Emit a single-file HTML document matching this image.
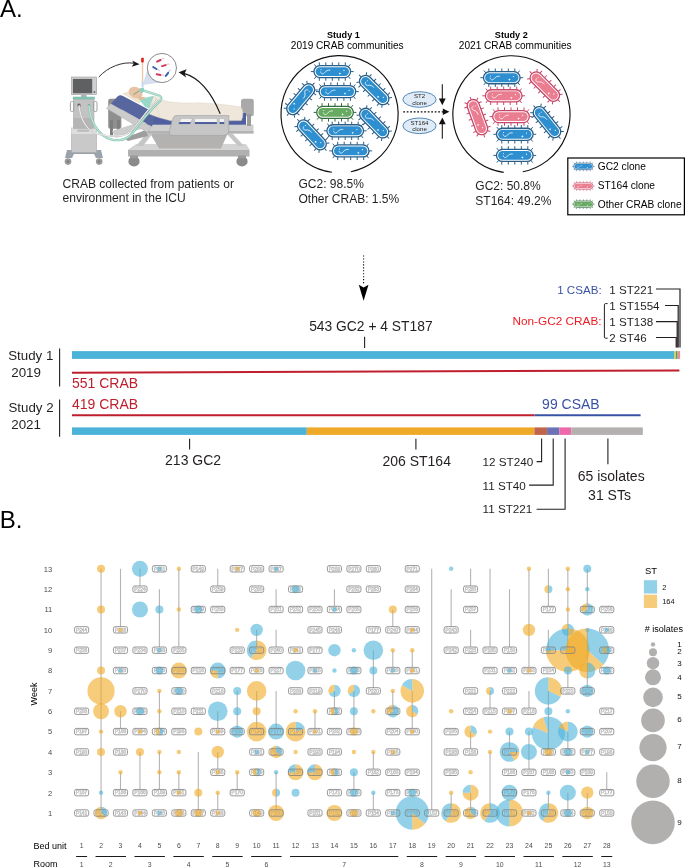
<!DOCTYPE html>
<html><head><meta charset="utf-8"><title>Figure</title>
<style>
html,body{margin:0;padding:0;background:#fff;}
body{width:685px;height:868px;overflow:hidden;}
svg{display:block;font-family:"Liberation Sans", sans-serif;will-change:transform;transform:translateZ(0);}
</style></head><body>
<svg width="685" height="868" viewBox="0 0 685 868">

<text x="0" y="16.6" font-size="24" fill="#000" text-anchor="start">A.</text>
<text x="-0.3" y="527.8" font-size="24" fill="#000" text-anchor="start">B.</text>
<g id="illus">
<path d="M67 150 H101 L103 158 H96 L94 154 H74 L72 158 H65 Z" fill="#9aa3ab"/>
<circle cx="68" cy="161.6" r="3.3" fill="#9b9b9b"/><circle cx="99.2" cy="161.6" r="3.3" fill="#9b9b9b"/>
<circle cx="68" cy="161.6" r="1.3" fill="#7d7d7d"/><circle cx="99.2" cy="161.6" r="1.3" fill="#7d7d7d"/>
<rect x="71.4" y="128" width="25.2" height="24.5" fill="#c9c9c9" stroke="#a5a5a5" stroke-width="0.5"/>
<rect x="71.4" y="128" width="25.2" height="6" fill="#dedede"/>
<rect x="77" y="129.5" width="12" height="2.2" rx="1" fill="#bcbcbc"/>
<rect x="73.4" y="99" width="20.6" height="29.5" fill="#c3c3c3" stroke="#a5a5a5" stroke-width="0.5"/>
<rect x="73.4" y="118" width="20.6" height="10.5" fill="#b5b5b5"/>
<rect x="70.4" y="101.5" width="3.4" height="10" rx="1.2" fill="none" stroke="#a0a0a0" stroke-width="1"/>
<rect x="93.6" y="101.5" width="3.4" height="10" rx="1.2" fill="none" stroke="#a0a0a0" stroke-width="1"/>
<rect x="81" y="95" width="5.5" height="2" fill="#b0b0b0"/>
<rect x="72.8" y="96.7" width="22" height="2.6" fill="#7fc4b0"/>
<rect x="71.4" y="77" width="25.2" height="17.6" fill="#cfcfcf" stroke="#9c9c9c" stroke-width="0.6"/>
<rect x="72.9" y="78.9" width="19.3" height="14.4" fill="#5f6062"/>
<circle cx="94.4" cy="92" r="1.1" fill="#777"/>
<circle cx="79" cy="105.2" r="2" fill="#8a8a8a"/><circle cx="79" cy="105.2" r="1" fill="#444"/>
<circle cx="89" cy="105.2" r="1.3" fill="#6fb7a3"/>
<rect x="108.2" y="98.8" width="13.2" height="30" rx="2" fill="#8f8f8f"/>
<rect x="110" y="120" width="3" height="16" fill="#7e7e7e"/><rect x="117" y="120" width="3" height="14" fill="#7e7e7e"/>
<path d="M128 150 L136 144.5 H246 L249.5 150 V156.5 H128 Z" fill="#b0b0b0"/>
<path d="M128 150 L136 144.5 H246 L249.5 150 Z" fill="#d4d4d4"/>
<ellipse cx="134" cy="161.4" rx="5.6" ry="5" fill="#8a8a8a"/><ellipse cx="242" cy="161.4" rx="5.6" ry="5" fill="#8a8a8a"/>
<rect x="130" y="155.5" width="8" height="3" fill="#9a9a9a"/><rect x="238" y="155.5" width="8" height="3" fill="#9a9a9a"/>
<path d="M150 133 H228 L221 148.5 H159 Z" fill="#b4b2b1"/>
<path d="M147 133 L136 146 H143 L153 133 Z" fill="#c6c6c6"/><path d="M226 133 L238 146 H244 L232 133 Z" fill="#c6c6c6"/>
<path d="M112 131 L140 122 L146 127 L116 138 Z" fill="#cdcdcd"/>
<path d="M124 138 L146 130 L148 136 L128 141 Z" fill="#9d9d9d"/>
<rect x="147" y="124.5" width="106.5" height="9" fill="#cfcfcf"/>
<rect x="147" y="131" width="106.5" height="2.5" fill="#b3b3b3"/>
<rect x="241" y="98.8" width="12.8" height="17.5" rx="2.5" fill="#a9a9a9"/>
<rect x="247" y="114" width="4" height="12" fill="#9a9a9a"/>
<path d="M150 113 H246 V124.8 H146 Z" fill="#4f5f9f"/>
<path d="M106.5 108.5 L110.5 103.5 L151 126.5 L147.5 132.5 Z" fill="#cbcbcb" stroke="#a9a9a9" stroke-width="0.4"/>
<path d="M111 103.5 L117.5 96.5 Q120 94.5 123 96 L156 113.5 L152 126.5 Z" fill="#57669f"/>
<path d="M122.9 93.6 L129.5 92 L141 100.4 L139.3 103.2 Z" fill="#efe6d3" stroke="#d8caae" stroke-width="0.4"/>
<path d="M149.8 99.5 L155 96.4 Q158 97.5 162 99.9 Q166 101.4 171.4 102.2 Q186 103.8 200 102.9 Q216 103.6 230 105.4 L241 107 Q244.6 113 241.4 120.6 L176 121 L171 120.8 L158.6 117.4 L149.2 113.9 Z" fill="#efe7dc" stroke="#dbd1c2" stroke-width="0.5"/>
<path d="M155 96.8 Q157 108 159.5 117.5" fill="none" stroke="#ddd3c4" stroke-width="0.5"/>
<ellipse cx="135.6" cy="92.6" rx="7.2" ry="5.5" fill="#e8c4a4" transform="rotate(22 135.6 92.6)"/>
<path d="M138.5 96 L146 97.8 L144.6 102 L138.6 99.4 Z" fill="#e2bb99"/>
<path d="M139.9 100.6 L146.3 97.6 L153.9 95.8 L149.2 108.2 L145.1 107 Z" fill="#9ad8c8"/>
<path d="M139.2 88.6 L143.6 87.4 L144.6 91.6 L141 93.2 Z" fill="#8fd0c0"/>
<path d="M133.4 94.6 L139.6 90.6" stroke="#4d9a88" stroke-width="0.8" fill="none"/>
<path d="M89 105.5 C90 122 99 136 111 139.3 C120 141.6 128 139 133 132.5 C139 124 148 112.5 160.6 100.3 Q162.6 97 158.6 95.3 L150 92.6 L143.6 90.6" fill="none" stroke="#86c8b4" stroke-width="2.3" stroke-linejoin="round"/>
<path d="M89 105.5 C90 122 99 136 111 139.3 C120 141.6 128 139 133 132.5 C139 124 148 112.5 160.6 100.3 Q162.6 97 158.6 95.3 L150 92.6 L143.6 90.6" fill="none" stroke="#e9f5f1" stroke-width="0.7" stroke-linejoin="round"/>
<path d="M79 105.4 C80 118 86 130 96 133.5 C108 136.5 120 137 127 134 C136 128 145 112 157.5 99.5" fill="none" stroke="#b9b9b9" stroke-width="1.7"/>
<path d="M79 105.4 C80 118 86 130 96 133.5 C108 136.5 120 137 127 134 C136 128 145 112 157.5 99.5" fill="none" stroke="#f6f6f6" stroke-width="0.9"/>
<path d="M176 115.6 H228.8 V130 Q228.8 135.4 223 135.4 H173 Q168 135.4 169.5 130.5 L172.5 119.5 Q173.6 115.6 176 115.6 Z" fill="#c6c6c6" stroke="#9d9d9d" stroke-width="0.6"/>
<path d="M181 118.6 H192.5 L190 124 H178.6 Z" fill="#f3f3f3" stroke="#9d9d9d" stroke-width="0.4"/>
<rect x="194.6" y="118.6" width="22.6" height="5.6" rx="1" fill="#f3f3f3" stroke="#9d9d9d" stroke-width="0.4"/>
<rect x="219.3" y="118.6" width="5.2" height="5.6" rx="1" fill="#f3f3f3" stroke="#9d9d9d" stroke-width="0.4"/>
<path d="M179.5 122 H191 L190 124 H178.6 Z" fill="#4f5f9f"/><rect x="194.9" y="122" width="22" height="2" fill="#4f5f9f"/><rect x="219.6" y="122" width="4.6" height="2" fill="#4f5f9f"/>
<path d="M142.6 85 L148 68 L160 82.5 Z" fill="#d5dff0"/>
<rect x="141.9" y="62" width="1.3" height="20" fill="#e9c9a3"/>
<rect x="141.1" y="57.8" width="2.7" height="4.8" rx="0.8" fill="#e0271c"/>
<rect x="141.6" y="81.4" width="1.9" height="6" fill="#c5d6ea"/>
<circle cx="161.9" cy="68" r="14.6" fill="#fff" stroke="#58595b" stroke-width="0.7"/>
<g transform="translate(158.8 60.8) rotate(-25)"><rect x="-2.9" y="-1" width="5.8" height="2" rx="1" fill="#d23a5a"/><path d="M2.9 0 q1.5 -1.2 3 0.2" fill="none" stroke="#d23a5a" stroke-width="0.35"/></g>
<g transform="translate(163.8 65.6) rotate(-15)"><rect x="-2.9" y="-1" width="5.8" height="2" rx="1" fill="#d23a5a"/><path d="M2.9 0 q1.5 -1.2 3 0.2" fill="none" stroke="#d23a5a" stroke-width="0.35"/></g>
<g transform="translate(158.6 74.6) rotate(10)"><rect x="-2.9" y="-1" width="5.8" height="2" rx="1" fill="#d23a5a"/><path d="M2.9 0 q1.5 -1.2 3 0.2" fill="none" stroke="#d23a5a" stroke-width="0.35"/></g>
<g transform="translate(154.8 68) rotate(32)"><rect x="-2.9" y="-1" width="5.8" height="2" rx="1" fill="#3a5fb0"/><path d="M2.9 0 q1.5 -1.2 3 0.2" fill="none" stroke="#3a5fb0" stroke-width="0.35"/></g>
<g transform="translate(167 74.4) rotate(-52)"><rect x="-2.9" y="-1" width="5.8" height="2" rx="1" fill="#3a5fb0"/><path d="M2.9 0 q1.5 -1.2 3 0.2" fill="none" stroke="#3a5fb0" stroke-width="0.35"/></g>
<path d="M98.8 77 C108 67 122 61.5 134 63.2" fill="none" stroke="#1a1a1a" stroke-width="0.9"/>
<path d="M139.6 64.2 L132.2 60.4 L133.8 63.6 L131.8 66.8 Z" fill="#1a1a1a"/>
<path d="M220.2 113.8 C212 94 200 78 184 73.4" fill="none" stroke="#1a1a1a" stroke-width="1.1"/>
<path d="M178.6 72.2 L186.6 69.2 L184.6 73.4 L186.2 77.6 Z" fill="#1a1a1a"/>
<text x="62.5" y="187.5" font-size="12.05" fill="#231f20" text-anchor="start">CRAB collected from patients or</text>
<text x="62.5" y="201.5" font-size="12.05" fill="#231f20" text-anchor="start">environment in the ICU</text>
<path d="M350.9 171.7 A58.6 58.6 0 1 0 331.9 172.3" fill="none" stroke="#111" stroke-width="1.15"/>
<g transform="translate(332.3 71.6) rotate(0) scale(1)"><path d="M-13.0 -9.2V-6.0M-13.0 6.0V9.2M-6.5 -9.2V-6.0M-6.5 6.0V9.2M0.0 -9.2V-6.0M0.0 6.0V9.2M6.5 -9.2V-6.0M6.5 6.0V9.2M13.0 -9.2V-6.0M13.0 6.0V9.2M16.0 -4.8L17.9 -7.2M18.3 0.0L21.4 0.0M16.0 4.8L17.9 7.2M-16.0 4.8L-17.9 7.2M-18.3 0.0L-21.4 0.0M-16.0 -4.8L-17.9 -7.2" stroke="#2a5f88" stroke-width="1" fill="none"/><rect x="-18.3" y="-6.05" width="36.6" height="12.1" rx="6.05" fill="#fff" stroke="#2a5f88" stroke-width="1.3"/><rect x="-16.7" y="-4.449999999999999" width="33.4" height="8.899999999999999" rx="4.449999999999999" fill="#2e8fd0"/><path d="M-11.7 0 C-11.2 2.6 -9 2.8 -7.6 1 C-6.2 -0.9 -4.6 -1.7 -2 -1.4" fill="none" stroke="#fff" stroke-width="0.75"/><circle cx="-11.3" cy="-1.8" r="0.5" fill="#fff"/><circle cx="11.7" cy="-1.2" r="0.6" fill="#fff"/><path d="M7.6 0.6 L8 1.6 L9 2 L8 2.4 L7.6 3.4 L7.2 2.4 L6.2 2 L7.2 1.6 Z" fill="#fff"/></g>
<g transform="translate(337.4 91.6) rotate(0) scale(1)"><path d="M-13.0 -9.2V-6.0M-13.0 6.0V9.2M-6.5 -9.2V-6.0M-6.5 6.0V9.2M0.0 -9.2V-6.0M0.0 6.0V9.2M6.5 -9.2V-6.0M6.5 6.0V9.2M13.0 -9.2V-6.0M13.0 6.0V9.2M16.0 -4.8L17.9 -7.2M18.3 0.0L21.4 0.0M16.0 4.8L17.9 7.2M-16.0 4.8L-17.9 7.2M-18.3 0.0L-21.4 0.0M-16.0 -4.8L-17.9 -7.2" stroke="#2a5f88" stroke-width="1" fill="none"/><rect x="-18.3" y="-6.05" width="36.6" height="12.1" rx="6.05" fill="#fff" stroke="#2a5f88" stroke-width="1.3"/><rect x="-16.7" y="-4.449999999999999" width="33.4" height="8.899999999999999" rx="4.449999999999999" fill="#2e8fd0"/><path d="M-11.7 0 C-11.2 2.6 -9 2.8 -7.6 1 C-6.2 -0.9 -4.6 -1.7 -2 -1.4" fill="none" stroke="#fff" stroke-width="0.75"/><circle cx="-11.3" cy="-1.8" r="0.5" fill="#fff"/><circle cx="11.7" cy="-1.2" r="0.6" fill="#fff"/><path d="M7.6 0.6 L8 1.6 L9 2 L8 2.4 L7.6 3.4 L7.2 2.4 L6.2 2 L7.2 1.6 Z" fill="#fff"/></g>
<g transform="translate(335 112.4) rotate(0) scale(1)"><path d="M-13.0 -9.2V-6.0M-13.0 6.0V9.2M-6.5 -9.2V-6.0M-6.5 6.0V9.2M0.0 -9.2V-6.0M0.0 6.0V9.2M6.5 -9.2V-6.0M6.5 6.0V9.2M13.0 -9.2V-6.0M13.0 6.0V9.2M16.0 -4.8L17.9 -7.2M18.3 0.0L21.4 0.0M16.0 4.8L17.9 7.2M-16.0 4.8L-17.9 7.2M-18.3 0.0L-21.4 0.0M-16.0 -4.8L-17.9 -7.2" stroke="#356b3f" stroke-width="1" fill="none"/><rect x="-18.3" y="-6.05" width="36.6" height="12.1" rx="6.05" fill="#fff" stroke="#356b3f" stroke-width="1.3"/><rect x="-16.7" y="-4.449999999999999" width="33.4" height="8.899999999999999" rx="4.449999999999999" fill="#67aa62"/><path d="M-11.7 0 C-11.2 2.6 -9 2.8 -7.6 1 C-6.2 -0.9 -4.6 -1.7 -2 -1.4" fill="none" stroke="#fff" stroke-width="0.75"/><circle cx="-11.3" cy="-1.8" r="0.5" fill="#fff"/><circle cx="11.7" cy="-1.2" r="0.6" fill="#fff"/><path d="M7.6 0.6 L8 1.6 L9 2 L8 2.4 L7.6 3.4 L7.2 2.4 L6.2 2 L7.2 1.6 Z" fill="#fff"/></g>
<g transform="translate(345.2 130.8) rotate(0) scale(1)"><path d="M-13.0 -9.2V-6.0M-13.0 6.0V9.2M-6.5 -9.2V-6.0M-6.5 6.0V9.2M0.0 -9.2V-6.0M0.0 6.0V9.2M6.5 -9.2V-6.0M6.5 6.0V9.2M13.0 -9.2V-6.0M13.0 6.0V9.2M16.0 -4.8L17.9 -7.2M18.3 0.0L21.4 0.0M16.0 4.8L17.9 7.2M-16.0 4.8L-17.9 7.2M-18.3 0.0L-21.4 0.0M-16.0 -4.8L-17.9 -7.2" stroke="#2a5f88" stroke-width="1" fill="none"/><rect x="-18.3" y="-6.05" width="36.6" height="12.1" rx="6.05" fill="#fff" stroke="#2a5f88" stroke-width="1.3"/><rect x="-16.7" y="-4.449999999999999" width="33.4" height="8.899999999999999" rx="4.449999999999999" fill="#2e8fd0"/><path d="M-11.7 0 C-11.2 2.6 -9 2.8 -7.6 1 C-6.2 -0.9 -4.6 -1.7 -2 -1.4" fill="none" stroke="#fff" stroke-width="0.75"/><circle cx="-11.3" cy="-1.8" r="0.5" fill="#fff"/><circle cx="11.7" cy="-1.2" r="0.6" fill="#fff"/><path d="M7.6 0.6 L8 1.6 L9 2 L8 2.4 L7.6 3.4 L7.2 2.4 L6.2 2 L7.2 1.6 Z" fill="#fff"/></g>
<g transform="translate(350.7 150.9) rotate(0) scale(1)"><path d="M-13.0 -9.2V-6.0M-13.0 6.0V9.2M-6.5 -9.2V-6.0M-6.5 6.0V9.2M0.0 -9.2V-6.0M0.0 6.0V9.2M6.5 -9.2V-6.0M6.5 6.0V9.2M13.0 -9.2V-6.0M13.0 6.0V9.2M16.0 -4.8L17.9 -7.2M18.3 0.0L21.4 0.0M16.0 4.8L17.9 7.2M-16.0 4.8L-17.9 7.2M-18.3 0.0L-21.4 0.0M-16.0 -4.8L-17.9 -7.2" stroke="#2a5f88" stroke-width="1" fill="none"/><rect x="-18.3" y="-6.05" width="36.6" height="12.1" rx="6.05" fill="#fff" stroke="#2a5f88" stroke-width="1.3"/><rect x="-16.7" y="-4.449999999999999" width="33.4" height="8.899999999999999" rx="4.449999999999999" fill="#2e8fd0"/><path d="M-11.7 0 C-11.2 2.6 -9 2.8 -7.6 1 C-6.2 -0.9 -4.6 -1.7 -2 -1.4" fill="none" stroke="#fff" stroke-width="0.75"/><circle cx="-11.3" cy="-1.8" r="0.5" fill="#fff"/><circle cx="11.7" cy="-1.2" r="0.6" fill="#fff"/><path d="M7.6 0.6 L8 1.6 L9 2 L8 2.4 L7.6 3.4 L7.2 2.4 L6.2 2 L7.2 1.6 Z" fill="#fff"/></g>
<g transform="translate(300.7 99.2) rotate(130) scale(1)"><path d="M-13.0 -9.2V-6.0M-13.0 6.0V9.2M-6.5 -9.2V-6.0M-6.5 6.0V9.2M0.0 -9.2V-6.0M0.0 6.0V9.2M6.5 -9.2V-6.0M6.5 6.0V9.2M13.0 -9.2V-6.0M13.0 6.0V9.2M16.0 -4.8L17.9 -7.2M18.3 0.0L21.4 0.0M16.0 4.8L17.9 7.2M-16.0 4.8L-17.9 7.2M-18.3 0.0L-21.4 0.0M-16.0 -4.8L-17.9 -7.2" stroke="#2a5f88" stroke-width="1" fill="none"/><rect x="-18.3" y="-6.05" width="36.6" height="12.1" rx="6.05" fill="#fff" stroke="#2a5f88" stroke-width="1.3"/><rect x="-16.7" y="-4.449999999999999" width="33.4" height="8.899999999999999" rx="4.449999999999999" fill="#2e8fd0"/><path d="M-11.7 0 C-11.2 2.6 -9 2.8 -7.6 1 C-6.2 -0.9 -4.6 -1.7 -2 -1.4" fill="none" stroke="#fff" stroke-width="0.75"/><circle cx="-11.3" cy="-1.8" r="0.5" fill="#fff"/><circle cx="11.7" cy="-1.2" r="0.6" fill="#fff"/><path d="M7.6 0.6 L8 1.6 L9 2 L8 2.4 L7.6 3.4 L7.2 2.4 L6.2 2 L7.2 1.6 Z" fill="#fff"/></g>
<g transform="translate(311.9 134.9) rotate(47) scale(1)"><path d="M-13.0 -9.2V-6.0M-13.0 6.0V9.2M-6.5 -9.2V-6.0M-6.5 6.0V9.2M0.0 -9.2V-6.0M0.0 6.0V9.2M6.5 -9.2V-6.0M6.5 6.0V9.2M13.0 -9.2V-6.0M13.0 6.0V9.2M16.0 -4.8L17.9 -7.2M18.3 0.0L21.4 0.0M16.0 4.8L17.9 7.2M-16.0 4.8L-17.9 7.2M-18.3 0.0L-21.4 0.0M-16.0 -4.8L-17.9 -7.2" stroke="#2a5f88" stroke-width="1" fill="none"/><rect x="-18.3" y="-6.05" width="36.6" height="12.1" rx="6.05" fill="#fff" stroke="#2a5f88" stroke-width="1.3"/><rect x="-16.7" y="-4.449999999999999" width="33.4" height="8.899999999999999" rx="4.449999999999999" fill="#2e8fd0"/><path d="M-11.7 0 C-11.2 2.6 -9 2.8 -7.6 1 C-6.2 -0.9 -4.6 -1.7 -2 -1.4" fill="none" stroke="#fff" stroke-width="0.75"/><circle cx="-11.3" cy="-1.8" r="0.5" fill="#fff"/><circle cx="11.7" cy="-1.2" r="0.6" fill="#fff"/><path d="M7.6 0.6 L8 1.6 L9 2 L8 2.4 L7.6 3.4 L7.2 2.4 L6.2 2 L7.2 1.6 Z" fill="#fff"/></g>
<g transform="translate(374.2 90) rotate(45) scale(1)"><path d="M-13.0 -9.2V-6.0M-13.0 6.0V9.2M-6.5 -9.2V-6.0M-6.5 6.0V9.2M0.0 -9.2V-6.0M0.0 6.0V9.2M6.5 -9.2V-6.0M6.5 6.0V9.2M13.0 -9.2V-6.0M13.0 6.0V9.2M16.0 -4.8L17.9 -7.2M18.3 0.0L21.4 0.0M16.0 4.8L17.9 7.2M-16.0 4.8L-17.9 7.2M-18.3 0.0L-21.4 0.0M-16.0 -4.8L-17.9 -7.2" stroke="#2a5f88" stroke-width="1" fill="none"/><rect x="-18.3" y="-6.05" width="36.6" height="12.1" rx="6.05" fill="#fff" stroke="#2a5f88" stroke-width="1.3"/><rect x="-16.7" y="-4.449999999999999" width="33.4" height="8.899999999999999" rx="4.449999999999999" fill="#2e8fd0"/><path d="M-11.7 0 C-11.2 2.6 -9 2.8 -7.6 1 C-6.2 -0.9 -4.6 -1.7 -2 -1.4" fill="none" stroke="#fff" stroke-width="0.75"/><circle cx="-11.3" cy="-1.8" r="0.5" fill="#fff"/><circle cx="11.7" cy="-1.2" r="0.6" fill="#fff"/><path d="M7.6 0.6 L8 1.6 L9 2 L8 2.4 L7.6 3.4 L7.2 2.4 L6.2 2 L7.2 1.6 Z" fill="#fff"/></g>
<g transform="translate(374.2 123.1) rotate(46) scale(1)"><path d="M-13.0 -9.2V-6.0M-13.0 6.0V9.2M-6.5 -9.2V-6.0M-6.5 6.0V9.2M0.0 -9.2V-6.0M0.0 6.0V9.2M6.5 -9.2V-6.0M6.5 6.0V9.2M13.0 -9.2V-6.0M13.0 6.0V9.2M16.0 -4.8L17.9 -7.2M18.3 0.0L21.4 0.0M16.0 4.8L17.9 7.2M-16.0 4.8L-17.9 7.2M-18.3 0.0L-21.4 0.0M-16.0 -4.8L-17.9 -7.2" stroke="#2a5f88" stroke-width="1" fill="none"/><rect x="-18.3" y="-6.05" width="36.6" height="12.1" rx="6.05" fill="#fff" stroke="#2a5f88" stroke-width="1.3"/><rect x="-16.7" y="-4.449999999999999" width="33.4" height="8.899999999999999" rx="4.449999999999999" fill="#2e8fd0"/><path d="M-11.7 0 C-11.2 2.6 -9 2.8 -7.6 1 C-6.2 -0.9 -4.6 -1.7 -2 -1.4" fill="none" stroke="#fff" stroke-width="0.75"/><circle cx="-11.3" cy="-1.8" r="0.5" fill="#fff"/><circle cx="11.7" cy="-1.2" r="0.6" fill="#fff"/><path d="M7.6 0.6 L8 1.6 L9 2 L8 2.4 L7.6 3.4 L7.2 2.4 L6.2 2 L7.2 1.6 Z" fill="#fff"/></g>
<text x="343.4" y="37.6" font-size="9.7" fill="#000" text-anchor="middle" font-weight="bold" textLength="32.8" lengthAdjust="spacingAndGlyphs">Study 1</text>
<text x="347.2" y="49.4" font-size="10.1" fill="#000" text-anchor="middle">2019 CRAB communities</text>
<text x="298.5" y="188.2" font-size="12" fill="#231f20" text-anchor="start">GC2: 98.5%</text>
<text x="298.5" y="202.9" font-size="12" fill="#231f20" text-anchor="start">Other CRAB: 1.5%</text>
<path d="M522.8 171.8 A58.6 58.6 0 1 0 503.7 172.4" fill="none" stroke="#111" stroke-width="1.15"/>
<g transform="translate(501.8 77.7) rotate(0) scale(1)"><path d="M-13.0 -9.2V-6.0M-13.0 6.0V9.2M-6.5 -9.2V-6.0M-6.5 6.0V9.2M0.0 -9.2V-6.0M0.0 6.0V9.2M6.5 -9.2V-6.0M6.5 6.0V9.2M13.0 -9.2V-6.0M13.0 6.0V9.2M16.0 -4.8L17.9 -7.2M18.3 0.0L21.4 0.0M16.0 4.8L17.9 7.2M-16.0 4.8L-17.9 7.2M-18.3 0.0L-21.4 0.0M-16.0 -4.8L-17.9 -7.2" stroke="#2a5f88" stroke-width="1" fill="none"/><rect x="-18.3" y="-6.05" width="36.6" height="12.1" rx="6.05" fill="#fff" stroke="#2a5f88" stroke-width="1.3"/><rect x="-16.7" y="-4.449999999999999" width="33.4" height="8.899999999999999" rx="4.449999999999999" fill="#2e8fd0"/><path d="M-11.7 0 C-11.2 2.6 -9 2.8 -7.6 1 C-6.2 -0.9 -4.6 -1.7 -2 -1.4" fill="none" stroke="#fff" stroke-width="0.75"/><circle cx="-11.3" cy="-1.8" r="0.5" fill="#fff"/><circle cx="11.7" cy="-1.2" r="0.6" fill="#fff"/><path d="M7.6 0.6 L8 1.6 L9 2 L8 2.4 L7.6 3.4 L7.2 2.4 L6.2 2 L7.2 1.6 Z" fill="#fff"/></g>
<g transform="translate(503.7 95.8) rotate(0) scale(1)"><path d="M-13.0 -9.2V-6.0M-13.0 6.0V9.2M-6.5 -9.2V-6.0M-6.5 6.0V9.2M0.0 -9.2V-6.0M0.0 6.0V9.2M6.5 -9.2V-6.0M6.5 6.0V9.2M13.0 -9.2V-6.0M13.0 6.0V9.2M16.0 -4.8L17.9 -7.2M18.3 0.0L21.4 0.0M16.0 4.8L17.9 7.2M-16.0 4.8L-17.9 7.2M-18.3 0.0L-21.4 0.0M-16.0 -4.8L-17.9 -7.2" stroke="#c8486a" stroke-width="1" fill="none"/><rect x="-18.3" y="-6.05" width="36.6" height="12.1" rx="6.05" fill="#fff" stroke="#c8486a" stroke-width="1.3"/><rect x="-16.7" y="-4.449999999999999" width="33.4" height="8.899999999999999" rx="4.449999999999999" fill="#ea7d90"/><path d="M-11.7 0 C-11.2 2.6 -9 2.8 -7.6 1 C-6.2 -0.9 -4.6 -1.7 -2 -1.4" fill="none" stroke="#fff" stroke-width="0.75"/><circle cx="-11.3" cy="-1.8" r="0.5" fill="#fff"/><circle cx="11.7" cy="-1.2" r="0.6" fill="#fff"/><path d="M7.6 0.6 L8 1.6 L9 2 L8 2.4 L7.6 3.4 L7.2 2.4 L6.2 2 L7.2 1.6 Z" fill="#fff"/></g>
<g transform="translate(511 116.6) rotate(0) scale(1)"><path d="M-13.0 -9.2V-6.0M-13.0 6.0V9.2M-6.5 -9.2V-6.0M-6.5 6.0V9.2M0.0 -9.2V-6.0M0.0 6.0V9.2M6.5 -9.2V-6.0M6.5 6.0V9.2M13.0 -9.2V-6.0M13.0 6.0V9.2M16.0 -4.8L17.9 -7.2M18.3 0.0L21.4 0.0M16.0 4.8L17.9 7.2M-16.0 4.8L-17.9 7.2M-18.3 0.0L-21.4 0.0M-16.0 -4.8L-17.9 -7.2" stroke="#c8486a" stroke-width="1" fill="none"/><rect x="-18.3" y="-6.05" width="36.6" height="12.1" rx="6.05" fill="#fff" stroke="#c8486a" stroke-width="1.3"/><rect x="-16.7" y="-4.449999999999999" width="33.4" height="8.899999999999999" rx="4.449999999999999" fill="#ea7d90"/><path d="M-11.7 0 C-11.2 2.6 -9 2.8 -7.6 1 C-6.2 -0.9 -4.6 -1.7 -2 -1.4" fill="none" stroke="#fff" stroke-width="0.75"/><circle cx="-11.3" cy="-1.8" r="0.5" fill="#fff"/><circle cx="11.7" cy="-1.2" r="0.6" fill="#fff"/><path d="M7.6 0.6 L8 1.6 L9 2 L8 2.4 L7.6 3.4 L7.2 2.4 L6.2 2 L7.2 1.6 Z" fill="#fff"/></g>
<g transform="translate(514.8 134.3) rotate(0) scale(1)"><path d="M-13.0 -9.2V-6.0M-13.0 6.0V9.2M-6.5 -9.2V-6.0M-6.5 6.0V9.2M0.0 -9.2V-6.0M0.0 6.0V9.2M6.5 -9.2V-6.0M6.5 6.0V9.2M13.0 -9.2V-6.0M13.0 6.0V9.2M16.0 -4.8L17.9 -7.2M18.3 0.0L21.4 0.0M16.0 4.8L17.9 7.2M-16.0 4.8L-17.9 7.2M-18.3 0.0L-21.4 0.0M-16.0 -4.8L-17.9 -7.2" stroke="#2a5f88" stroke-width="1" fill="none"/><rect x="-18.3" y="-6.05" width="36.6" height="12.1" rx="6.05" fill="#fff" stroke="#2a5f88" stroke-width="1.3"/><rect x="-16.7" y="-4.449999999999999" width="33.4" height="8.899999999999999" rx="4.449999999999999" fill="#2e8fd0"/><path d="M-11.7 0 C-11.2 2.6 -9 2.8 -7.6 1 C-6.2 -0.9 -4.6 -1.7 -2 -1.4" fill="none" stroke="#fff" stroke-width="0.75"/><circle cx="-11.3" cy="-1.8" r="0.5" fill="#fff"/><circle cx="11.7" cy="-1.2" r="0.6" fill="#fff"/><path d="M7.6 0.6 L8 1.6 L9 2 L8 2.4 L7.6 3.4 L7.2 2.4 L6.2 2 L7.2 1.6 Z" fill="#fff"/></g>
<g transform="translate(514.8 155.4) rotate(0) scale(1)"><path d="M-13.0 -9.2V-6.0M-13.0 6.0V9.2M-6.5 -9.2V-6.0M-6.5 6.0V9.2M0.0 -9.2V-6.0M0.0 6.0V9.2M6.5 -9.2V-6.0M6.5 6.0V9.2M13.0 -9.2V-6.0M13.0 6.0V9.2M16.0 -4.8L17.9 -7.2M18.3 0.0L21.4 0.0M16.0 4.8L17.9 7.2M-16.0 4.8L-17.9 7.2M-18.3 0.0L-21.4 0.0M-16.0 -4.8L-17.9 -7.2" stroke="#2a5f88" stroke-width="1" fill="none"/><rect x="-18.3" y="-6.05" width="36.6" height="12.1" rx="6.05" fill="#fff" stroke="#2a5f88" stroke-width="1.3"/><rect x="-16.7" y="-4.449999999999999" width="33.4" height="8.899999999999999" rx="4.449999999999999" fill="#2e8fd0"/><path d="M-11.7 0 C-11.2 2.6 -9 2.8 -7.6 1 C-6.2 -0.9 -4.6 -1.7 -2 -1.4" fill="none" stroke="#fff" stroke-width="0.75"/><circle cx="-11.3" cy="-1.8" r="0.5" fill="#fff"/><circle cx="11.7" cy="-1.2" r="0.6" fill="#fff"/><path d="M7.6 0.6 L8 1.6 L9 2 L8 2.4 L7.6 3.4 L7.2 2.4 L6.2 2 L7.2 1.6 Z" fill="#fff"/></g>
<g transform="translate(544.8 86.6) rotate(45) scale(1)"><path d="M-13.0 -9.2V-6.0M-13.0 6.0V9.2M-6.5 -9.2V-6.0M-6.5 6.0V9.2M0.0 -9.2V-6.0M0.0 6.0V9.2M6.5 -9.2V-6.0M6.5 6.0V9.2M13.0 -9.2V-6.0M13.0 6.0V9.2M16.0 -4.8L17.9 -7.2M18.3 0.0L21.4 0.0M16.0 4.8L17.9 7.2M-16.0 4.8L-17.9 7.2M-18.3 0.0L-21.4 0.0M-16.0 -4.8L-17.9 -7.2" stroke="#c8486a" stroke-width="1" fill="none"/><rect x="-18.3" y="-6.05" width="36.6" height="12.1" rx="6.05" fill="#fff" stroke="#c8486a" stroke-width="1.3"/><rect x="-16.7" y="-4.449999999999999" width="33.4" height="8.899999999999999" rx="4.449999999999999" fill="#ea7d90"/><path d="M-11.7 0 C-11.2 2.6 -9 2.8 -7.6 1 C-6.2 -0.9 -4.6 -1.7 -2 -1.4" fill="none" stroke="#fff" stroke-width="0.75"/><circle cx="-11.3" cy="-1.8" r="0.5" fill="#fff"/><circle cx="11.7" cy="-1.2" r="0.6" fill="#fff"/><path d="M7.6 0.6 L8 1.6 L9 2 L8 2.4 L7.6 3.4 L7.2 2.4 L6.2 2 L7.2 1.6 Z" fill="#fff"/></g>
<g transform="translate(547 122.1) rotate(51) scale(1)"><path d="M-13.0 -9.2V-6.0M-13.0 6.0V9.2M-6.5 -9.2V-6.0M-6.5 6.0V9.2M0.0 -9.2V-6.0M0.0 6.0V9.2M6.5 -9.2V-6.0M6.5 6.0V9.2M13.0 -9.2V-6.0M13.0 6.0V9.2M16.0 -4.8L17.9 -7.2M18.3 0.0L21.4 0.0M16.0 4.8L17.9 7.2M-16.0 4.8L-17.9 7.2M-18.3 0.0L-21.4 0.0M-16.0 -4.8L-17.9 -7.2" stroke="#2a5f88" stroke-width="1" fill="none"/><rect x="-18.3" y="-6.05" width="36.6" height="12.1" rx="6.05" fill="#fff" stroke="#2a5f88" stroke-width="1.3"/><rect x="-16.7" y="-4.449999999999999" width="33.4" height="8.899999999999999" rx="4.449999999999999" fill="#2e8fd0"/><path d="M-11.7 0 C-11.2 2.6 -9 2.8 -7.6 1 C-6.2 -0.9 -4.6 -1.7 -2 -1.4" fill="none" stroke="#fff" stroke-width="0.75"/><circle cx="-11.3" cy="-1.8" r="0.5" fill="#fff"/><circle cx="11.7" cy="-1.2" r="0.6" fill="#fff"/><path d="M7.6 0.6 L8 1.6 L9 2 L8 2.4 L7.6 3.4 L7.2 2.4 L6.2 2 L7.2 1.6 Z" fill="#fff"/></g>
<g transform="translate(477.4 117.1) rotate(70) scale(1)"><path d="M-13.0 -9.2V-6.0M-13.0 6.0V9.2M-6.5 -9.2V-6.0M-6.5 6.0V9.2M0.0 -9.2V-6.0M0.0 6.0V9.2M6.5 -9.2V-6.0M6.5 6.0V9.2M13.0 -9.2V-6.0M13.0 6.0V9.2M16.0 -4.8L17.9 -7.2M18.3 0.0L21.4 0.0M16.0 4.8L17.9 7.2M-16.0 4.8L-17.9 7.2M-18.3 0.0L-21.4 0.0M-16.0 -4.8L-17.9 -7.2" stroke="#c8486a" stroke-width="1" fill="none"/><rect x="-18.3" y="-6.05" width="36.6" height="12.1" rx="6.05" fill="#fff" stroke="#c8486a" stroke-width="1.3"/><rect x="-16.7" y="-4.449999999999999" width="33.4" height="8.899999999999999" rx="4.449999999999999" fill="#ea7d90"/><path d="M-11.7 0 C-11.2 2.6 -9 2.8 -7.6 1 C-6.2 -0.9 -4.6 -1.7 -2 -1.4" fill="none" stroke="#fff" stroke-width="0.75"/><circle cx="-11.3" cy="-1.8" r="0.5" fill="#fff"/><circle cx="11.7" cy="-1.2" r="0.6" fill="#fff"/><path d="M7.6 0.6 L8 1.6 L9 2 L8 2.4 L7.6 3.4 L7.2 2.4 L6.2 2 L7.2 1.6 Z" fill="#fff"/></g>
<text x="511.3" y="38.4" font-size="9.7" fill="#000" text-anchor="middle" font-weight="bold" textLength="33" lengthAdjust="spacingAndGlyphs">Study 2</text>
<text x="515.2" y="49.4" font-size="10.1" fill="#000" text-anchor="middle">2021 CRAB communities</text>
<text x="475.3" y="189.7" font-size="12" fill="#231f20" text-anchor="start">GC2: 50.8%</text>
<text x="475.3" y="204.7" font-size="12" fill="#231f20" text-anchor="start">ST164: 49.2%</text>
<ellipse cx="419.5" cy="99.5" rx="16.6" ry="7.8" fill="#dfecf8" stroke="#2e6da4" stroke-width="0.8"/>
<text x="419.5" y="98.2" font-size="6.1" fill="#222" text-anchor="middle">ST2</text>
<text x="419.5" y="104.7" font-size="6.1" fill="#222" text-anchor="middle">clone</text>
<ellipse cx="419.5" cy="125.8" rx="16.6" ry="7.8" fill="#dfecf8" stroke="#2e6da4" stroke-width="0.8"/>
<text x="419.5" y="124.5" font-size="6.1" fill="#222" text-anchor="middle">ST164</text>
<text x="419.5" y="131.0" font-size="6.1" fill="#222" text-anchor="middle">clone</text>
<line x1="403.2" y1="111.8" x2="443" y2="111.8" stroke="#111" stroke-width="1.25" stroke-dasharray="1.8 1.7"/>
<path d="M449.4 111.8 L442.8 108.5 V115.1 Z" fill="#111"/>
<line x1="442.3" y1="84.2" x2="442.3" y2="100" stroke="#111" stroke-width="1.05"/><path d="M442.3 105.3 L438.9 98.5 H445.7 Z" fill="#111"/>
<line x1="442.3" y1="138.7" x2="442.3" y2="123" stroke="#111" stroke-width="1.05"/><path d="M442.3 117.5 L438.9 124.3 H445.7 Z" fill="#111"/>
<rect x="567.8" y="158" width="116.6" height="56.8" fill="#fff" stroke="#000" stroke-width="1.2"/>
<g transform="translate(583.3 166.4) rotate(0) scale(0.53)"><path d="M-13.0 -9.2V-6.0M-13.0 6.0V9.2M-6.5 -9.2V-6.0M-6.5 6.0V9.2M0.0 -9.2V-6.0M0.0 6.0V9.2M6.5 -9.2V-6.0M6.5 6.0V9.2M13.0 -9.2V-6.0M13.0 6.0V9.2M16.0 -4.8L17.9 -7.2M18.3 0.0L21.4 0.0M16.0 4.8L17.9 7.2M-16.0 4.8L-17.9 7.2M-18.3 0.0L-21.4 0.0M-16.0 -4.8L-17.9 -7.2" stroke="#2a5f88" stroke-width="1" fill="none"/><rect x="-18.3" y="-6.05" width="36.6" height="12.1" rx="6.05" fill="#fff" stroke="#2a5f88" stroke-width="1.3"/><rect x="-16.7" y="-4.449999999999999" width="33.4" height="8.899999999999999" rx="4.449999999999999" fill="#2e8fd0"/><path d="M-11.7 0 C-11.2 2.6 -9 2.8 -7.6 1 C-6.2 -0.9 -4.6 -1.7 -2 -1.4" fill="none" stroke="#fff" stroke-width="0.75"/><circle cx="-11.3" cy="-1.8" r="0.5" fill="#fff"/><circle cx="11.7" cy="-1.2" r="0.6" fill="#fff"/><path d="M7.6 0.6 L8 1.6 L9 2 L8 2.4 L7.6 3.4 L7.2 2.4 L6.2 2 L7.2 1.6 Z" fill="#fff"/></g>
<g transform="translate(583.3 186) rotate(0) scale(0.53)"><path d="M-13.0 -9.2V-6.0M-13.0 6.0V9.2M-6.5 -9.2V-6.0M-6.5 6.0V9.2M0.0 -9.2V-6.0M0.0 6.0V9.2M6.5 -9.2V-6.0M6.5 6.0V9.2M13.0 -9.2V-6.0M13.0 6.0V9.2M16.0 -4.8L17.9 -7.2M18.3 0.0L21.4 0.0M16.0 4.8L17.9 7.2M-16.0 4.8L-17.9 7.2M-18.3 0.0L-21.4 0.0M-16.0 -4.8L-17.9 -7.2" stroke="#c8486a" stroke-width="1" fill="none"/><rect x="-18.3" y="-6.05" width="36.6" height="12.1" rx="6.05" fill="#fff" stroke="#c8486a" stroke-width="1.3"/><rect x="-16.7" y="-4.449999999999999" width="33.4" height="8.899999999999999" rx="4.449999999999999" fill="#ea7d90"/><path d="M-11.7 0 C-11.2 2.6 -9 2.8 -7.6 1 C-6.2 -0.9 -4.6 -1.7 -2 -1.4" fill="none" stroke="#fff" stroke-width="0.75"/><circle cx="-11.3" cy="-1.8" r="0.5" fill="#fff"/><circle cx="11.7" cy="-1.2" r="0.6" fill="#fff"/><path d="M7.6 0.6 L8 1.6 L9 2 L8 2.4 L7.6 3.4 L7.2 2.4 L6.2 2 L7.2 1.6 Z" fill="#fff"/></g>
<g transform="translate(583.3 204.2) rotate(0) scale(0.53)"><path d="M-13.0 -9.2V-6.0M-13.0 6.0V9.2M-6.5 -9.2V-6.0M-6.5 6.0V9.2M0.0 -9.2V-6.0M0.0 6.0V9.2M6.5 -9.2V-6.0M6.5 6.0V9.2M13.0 -9.2V-6.0M13.0 6.0V9.2M16.0 -4.8L17.9 -7.2M18.3 0.0L21.4 0.0M16.0 4.8L17.9 7.2M-16.0 4.8L-17.9 7.2M-18.3 0.0L-21.4 0.0M-16.0 -4.8L-17.9 -7.2" stroke="#356b3f" stroke-width="1" fill="none"/><rect x="-18.3" y="-6.05" width="36.6" height="12.1" rx="6.05" fill="#fff" stroke="#356b3f" stroke-width="1.3"/><rect x="-16.7" y="-4.449999999999999" width="33.4" height="8.899999999999999" rx="4.449999999999999" fill="#67aa62"/><path d="M-11.7 0 C-11.2 2.6 -9 2.8 -7.6 1 C-6.2 -0.9 -4.6 -1.7 -2 -1.4" fill="none" stroke="#fff" stroke-width="0.75"/><circle cx="-11.3" cy="-1.8" r="0.5" fill="#fff"/><circle cx="11.7" cy="-1.2" r="0.6" fill="#fff"/><path d="M7.6 0.6 L8 1.6 L9 2 L8 2.4 L7.6 3.4 L7.2 2.4 L6.2 2 L7.2 1.6 Z" fill="#fff"/></g>
<text x="597.8" y="169.5" font-size="10.2" fill="#000" text-anchor="start">GC2 clone</text>
<text x="597.8" y="188.9" font-size="10.2" fill="#000" text-anchor="start">ST164 clone</text>
<text x="597.8" y="207.5" font-size="10.2" fill="#000" text-anchor="start">Other CRAB clone</text>
</g>
<g id="bars">
<line x1="363.6" y1="255.5" x2="363.6" y2="285" stroke="#000" stroke-width="1.1" stroke-dasharray="1.1 1.85"/>
<path d="M358.8 284.7 L363.6 287.6 L368.5 284.7 L363.6 300.8 Z" fill="#000"/>
<text x="370.9" y="331.3" font-size="13.85" fill="#231f20" text-anchor="middle">543 GC2 + 4 ST187</text>
<line x1="364.6" y1="336.8" x2="364.6" y2="347.9" stroke="#231f20" stroke-width="1.1"/>
<text x="30.8" y="359.8" font-size="13.3" fill="#231f20" text-anchor="middle">Study 1</text>
<text x="26.1" y="376.7" font-size="13.4" fill="#231f20" text-anchor="middle">2019</text>
<line x1="59.6" y1="348.6" x2="59.6" y2="386.6" stroke="#231f20" stroke-width="1.1"/>
<rect x="72" y="351.1" width="602.6" height="7.8" fill="#4bb2d8"/>
<rect x="674.6" y="351.1" width="1.3" height="7.8" fill="#e8d52b"/>
<rect x="675.9" y="351.1" width="1.7" height="7.8" fill="#5b9b4a"/>
<rect x="677.6" y="351.1" width="2.5" height="7.8" fill="#e98aa0"/>
<line x1="72" y1="372.7" x2="679.4" y2="370.5" stroke="#be1e2d" stroke-width="2"/>
<text x="72" y="387.6" font-size="14" fill="#be1e2d" text-anchor="start">551 CRAB</text>
<text x="31" y="411.9" font-size="13.3" fill="#231f20" text-anchor="middle">Study 2</text>
<text x="26.1" y="429.3" font-size="13.4" fill="#231f20" text-anchor="middle">2021</text>
<line x1="59.6" y1="399.5" x2="59.6" y2="436.7" stroke="#231f20" stroke-width="1.1"/>
<text x="72" y="409.4" font-size="14" fill="#be1e2d" text-anchor="start">419 CRAB</text>
<line x1="72" y1="415.3" x2="534.4" y2="415.3" stroke="#be1e2d" stroke-width="2"/>
<line x1="534.4" y1="415.3" x2="640.6" y2="415.3" stroke="#3953a4" stroke-width="2"/>
<text x="570.9" y="409" font-size="14" fill="#3953a4" text-anchor="middle">99 CSAB</text>
<rect x="72" y="427.4" width="234.8" height="7.5" fill="#4bb2d8"/>
<rect x="306.8" y="427.4" width="227.6" height="7.5" fill="#efa928"/>
<rect x="534.4" y="427.4" width="12.7" height="7.5" fill="#c0644b"/>
<rect x="547.1" y="427.4" width="12.2" height="7.5" fill="#6b72b6"/>
<rect x="559.3" y="427.4" width="11.9" height="7.5" fill="#ec6aa9"/>
<rect x="571.2" y="427.4" width="71.6" height="7.5" fill="#b3b0af"/>
<line x1="189.6" y1="438.7" x2="189.6" y2="449.6" stroke="#231f20" stroke-width="1.1"/>
<text x="193.1" y="464.5" font-size="14" fill="#231f20" text-anchor="middle">213 GC2</text>
<line x1="415.9" y1="438.7" x2="415.9" y2="449.6" stroke="#231f20" stroke-width="1.1"/>
<text x="416.7" y="465.5" font-size="14" fill="#231f20" text-anchor="middle">206 ST164</text>
<path d="M541.6 438.5 V461.6 H536.6" fill="none" stroke="#231f20" stroke-width="1.1"/>
<path d="M553.2 438.5 V485.1 H529.1" fill="none" stroke="#231f20" stroke-width="1.1"/>
<path d="M565.1 438.5 V509.3 H536.6" fill="none" stroke="#231f20" stroke-width="1.1"/>
<line x1="607.9" y1="438.5" x2="607.9" y2="464.3" stroke="#231f20" stroke-width="1.1"/>
<text x="482.5" y="466.3" font-size="11.7" fill="#231f20" text-anchor="start">12 ST240</text>
<text x="482.5" y="489.9" font-size="11.7" fill="#231f20" text-anchor="start">11 ST40</text>
<text x="482.5" y="513.4" font-size="11.7" fill="#231f20" text-anchor="start">11 ST221</text>
<text x="611.2" y="481" font-size="14" fill="#231f20" text-anchor="middle">65 isolates</text>
<text x="609.5" y="500.4" font-size="14" fill="#231f20" text-anchor="middle">31 STs</text>
<text x="557.2" y="294" font-size="11.6" fill="#3953a4" text-anchor="start">1 CSAB:</text>
<text x="609.3" y="294" font-size="11.6" fill="#231f20" text-anchor="start">1 ST221</text>
<text x="609.3" y="309.7" font-size="11.6" fill="#231f20" text-anchor="start">1 ST1554</text>
<text x="609.3" y="325.8" font-size="11.6" fill="#231f20" text-anchor="start">1 ST138</text>
<text x="609.3" y="341.5" font-size="11.6" fill="#231f20" text-anchor="start">2 ST46</text>
<text x="601.6" y="325" font-size="11.8" fill="#ed1c24" text-anchor="end">Non-GC2 CRAB:</text>
<path d="M607.6 303.6 H605.6 Q604.4 303.6 604.4 304.8 V337 Q604.4 338.2 605.6 338.2 H607.6" fill="none" stroke="#231f20" stroke-width="1"/>
<path d="M656 289 H680 V347.5" fill="none" stroke="#231f20" stroke-width="1.2"/>
<path d="M665 305.5 H678.2 V347.5" fill="none" stroke="#231f20" stroke-width="1.2"/>
<path d="M656 321.6 H677.2 V347.5" fill="none" stroke="#231f20" stroke-width="1.2"/>
<path d="M656 337.5 H676.2 V347.5" fill="none" stroke="#231f20" stroke-width="1.2"/>
</g>
<g id="chart">
<g stroke="#b6b4b2" stroke-width="1.1">
<line x1="101.05" y1="568.80" x2="101.05" y2="813.00"/>
<line x1="120.50" y1="568.80" x2="120.50" y2="629.85"/>
<line x1="120.50" y1="711.25" x2="120.50" y2="731.60"/>
<line x1="120.50" y1="772.30" x2="120.50" y2="792.65"/>
<line x1="139.95" y1="568.80" x2="139.95" y2="589.15"/>
<line x1="139.95" y1="751.95" x2="139.95" y2="792.65"/>
<line x1="159.40" y1="589.15" x2="159.40" y2="650.20"/>
<line x1="159.40" y1="690.90" x2="159.40" y2="731.60"/>
<line x1="159.40" y1="751.95" x2="159.40" y2="792.65"/>
<line x1="178.85" y1="568.80" x2="178.85" y2="650.20"/>
<line x1="178.85" y1="772.30" x2="178.85" y2="792.65"/>
<line x1="198.30" y1="751.95" x2="198.30" y2="813.00"/>
<line x1="217.75" y1="568.80" x2="217.75" y2="589.15"/>
<line x1="217.75" y1="711.25" x2="217.75" y2="731.60"/>
<line x1="217.75" y1="751.95" x2="217.75" y2="772.30"/>
<line x1="217.75" y1="792.65" x2="217.75" y2="813.00"/>
<line x1="237.20" y1="690.90" x2="237.20" y2="731.60"/>
<line x1="237.20" y1="772.30" x2="237.20" y2="792.65"/>
<line x1="256.65" y1="629.85" x2="256.65" y2="650.20"/>
<line x1="256.65" y1="690.90" x2="256.65" y2="731.60"/>
<line x1="276.10" y1="589.15" x2="276.10" y2="609.50"/>
<line x1="276.10" y1="629.85" x2="276.10" y2="650.20"/>
<line x1="276.10" y1="690.90" x2="276.10" y2="731.60"/>
<line x1="276.10" y1="772.30" x2="276.10" y2="813.00"/>
<line x1="315.00" y1="711.25" x2="315.00" y2="731.60"/>
<line x1="334.45" y1="589.15" x2="334.45" y2="609.50"/>
<line x1="334.45" y1="690.90" x2="334.45" y2="711.25"/>
<line x1="353.90" y1="690.90" x2="353.90" y2="731.60"/>
<line x1="353.90" y1="772.30" x2="353.90" y2="792.65"/>
<line x1="373.35" y1="650.20" x2="373.35" y2="690.90"/>
<line x1="373.35" y1="751.95" x2="373.35" y2="772.30"/>
<line x1="373.35" y1="792.65" x2="373.35" y2="813.00"/>
<line x1="392.80" y1="609.50" x2="392.80" y2="629.85"/>
<line x1="392.80" y1="650.20" x2="392.80" y2="670.55"/>
<line x1="392.80" y1="690.90" x2="392.80" y2="711.25"/>
<line x1="412.25" y1="650.20" x2="412.25" y2="670.55"/>
<line x1="412.25" y1="690.90" x2="412.25" y2="731.60"/>
<line x1="431.70" y1="568.80" x2="431.70" y2="813.00"/>
<line x1="451.15" y1="589.15" x2="451.15" y2="629.85"/>
<line x1="451.15" y1="792.65" x2="451.15" y2="813.00"/>
<line x1="470.60" y1="568.80" x2="470.60" y2="589.15"/>
<line x1="470.60" y1="629.85" x2="470.60" y2="650.20"/>
<line x1="470.60" y1="731.60" x2="470.60" y2="751.95"/>
<line x1="470.60" y1="792.65" x2="470.60" y2="813.00"/>
<line x1="490.05" y1="568.80" x2="490.05" y2="650.20"/>
<line x1="490.05" y1="690.90" x2="490.05" y2="711.25"/>
<line x1="490.05" y1="751.95" x2="490.05" y2="813.00"/>
<line x1="509.50" y1="589.15" x2="509.50" y2="650.20"/>
<line x1="509.50" y1="731.60" x2="509.50" y2="751.95"/>
<line x1="528.95" y1="568.80" x2="528.95" y2="670.55"/>
<line x1="528.95" y1="690.90" x2="528.95" y2="711.25"/>
<line x1="528.95" y1="731.60" x2="528.95" y2="772.30"/>
<line x1="548.40" y1="568.80" x2="548.40" y2="609.50"/>
<line x1="548.40" y1="629.85" x2="548.40" y2="650.20"/>
<line x1="548.40" y1="690.90" x2="548.40" y2="751.95"/>
<line x1="548.40" y1="792.65" x2="548.40" y2="813.00"/>
<line x1="567.85" y1="568.80" x2="567.85" y2="650.20"/>
<line x1="567.85" y1="670.55" x2="567.85" y2="690.90"/>
<line x1="567.85" y1="731.60" x2="567.85" y2="751.95"/>
<line x1="567.85" y1="792.65" x2="567.85" y2="813.00"/>
<line x1="587.30" y1="568.80" x2="587.30" y2="609.50"/>
<line x1="587.30" y1="629.85" x2="587.30" y2="690.90"/>
<line x1="587.30" y1="792.65" x2="587.30" y2="813.00"/>
<line x1="606.75" y1="772.30" x2="606.75" y2="792.65"/>
</g>
<g font-size="4.9" text-anchor="middle" fill="#e4e4e4" stroke="#777" stroke-width="0.3" paint-order="stroke">
<rect x="74.55" y="626.65" width="14.1" height="6.4" rx="1.8" stroke="none" fill="#fff"/><text x="81.60" y="631.60">P244</text>
<rect x="74.55" y="647.00" width="14.1" height="6.4" rx="1.8" stroke="none" fill="#fff"/><text x="81.60" y="651.95">P236</text>
<rect x="74.55" y="708.05" width="14.1" height="6.4" rx="1.8" stroke="none" fill="#fff"/><text x="81.60" y="713.00">P208</text>
<rect x="74.55" y="728.40" width="14.1" height="6.4" rx="1.8" stroke="none" fill="#fff"/><text x="81.60" y="733.35">P197</text>
<rect x="74.55" y="748.75" width="14.1" height="6.4" rx="1.8" stroke="none" fill="#fff"/><text x="81.60" y="753.70">P190</text>
<rect x="74.55" y="789.45" width="14.1" height="6.4" rx="1.8" stroke="none" fill="#fff"/><text x="81.60" y="794.40">P167</text>
<rect x="74.55" y="809.80" width="14.1" height="6.4" rx="1.8" stroke="none" fill="#fff"/><text x="81.60" y="814.75">P141</text>
<rect x="94.00" y="809.80" width="14.1" height="6.4" rx="1.8" stroke="none" fill="#fff"/><text x="101.05" y="814.75">P142</text>
<rect x="113.45" y="626.65" width="14.1" height="6.4" rx="1.8" stroke="none" fill="#fff"/><text x="120.50" y="631.60">P226</text>
<rect x="113.45" y="647.00" width="14.1" height="6.4" rx="1.8" stroke="none" fill="#fff"/><text x="120.50" y="651.95">P237</text>
<rect x="113.45" y="667.35" width="14.1" height="6.4" rx="1.8" stroke="none" fill="#fff"/><text x="120.50" y="672.30">P228</text>
<rect x="113.45" y="728.40" width="14.1" height="6.4" rx="1.8" stroke="none" fill="#fff"/><text x="120.50" y="733.35">P188</text>
<rect x="113.45" y="748.75" width="14.1" height="6.4" rx="1.8" stroke="none" fill="#fff"/><text x="120.50" y="753.70">P180</text>
<rect x="113.45" y="789.45" width="14.1" height="6.4" rx="1.8" stroke="none" fill="#fff"/><text x="120.50" y="794.40">P166</text>
<rect x="113.45" y="809.80" width="14.1" height="6.4" rx="1.8" stroke="none" fill="#fff"/><text x="120.50" y="814.75">P143</text>
<rect x="132.90" y="585.95" width="14.1" height="6.4" rx="1.8" stroke="none" fill="#fff"/><text x="139.95" y="590.90">P224</text>
<rect x="132.90" y="647.00" width="14.1" height="6.4" rx="1.8" stroke="none" fill="#fff"/><text x="139.95" y="651.95">P234</text>
<rect x="132.90" y="687.70" width="14.1" height="6.4" rx="1.8" stroke="none" fill="#fff"/><text x="139.95" y="692.65">P170</text>
<rect x="132.90" y="708.05" width="14.1" height="6.4" rx="1.8" stroke="none" fill="#fff"/><text x="139.95" y="713.00">P209</text>
<rect x="132.90" y="728.40" width="14.1" height="6.4" rx="1.8" stroke="none" fill="#fff"/><text x="139.95" y="733.35">P184</text>
<rect x="132.90" y="789.45" width="14.1" height="6.4" rx="1.8" stroke="none" fill="#fff"/><text x="139.95" y="794.40">P168</text>
<rect x="132.90" y="809.80" width="14.1" height="6.4" rx="1.8" stroke="none" fill="#fff"/><text x="139.95" y="814.75">P144</text>
<rect x="152.35" y="565.60" width="14.1" height="6.4" rx="1.8" stroke="none" fill="#fff"/><text x="159.40" y="570.55">P261</text>
<rect x="152.35" y="647.00" width="14.1" height="6.4" rx="1.8" stroke="none" fill="#fff"/><text x="159.40" y="651.95">P238</text>
<rect x="152.35" y="667.35" width="14.1" height="6.4" rx="1.8" stroke="none" fill="#fff"/><text x="159.40" y="672.30">P225</text>
<rect x="152.35" y="728.40" width="14.1" height="6.4" rx="1.8" stroke="none" fill="#fff"/><text x="159.40" y="733.35">P184</text>
<rect x="152.35" y="789.45" width="14.1" height="6.4" rx="1.8" stroke="none" fill="#fff"/><text x="159.40" y="794.40">P169</text>
<rect x="152.35" y="809.80" width="14.1" height="6.4" rx="1.8" stroke="none" fill="#fff"/><text x="159.40" y="814.75">P145</text>
<rect x="171.80" y="647.00" width="14.1" height="6.4" rx="1.8" stroke="none" fill="#fff"/><text x="178.85" y="651.95">P235</text>
<rect x="171.80" y="667.35" width="14.1" height="6.4" rx="1.8" stroke="none" fill="#fff"/><text x="178.85" y="672.30">P203</text>
<rect x="171.80" y="687.70" width="14.1" height="6.4" rx="1.8" stroke="none" fill="#fff"/><text x="178.85" y="692.65">P200</text>
<rect x="171.80" y="708.05" width="14.1" height="6.4" rx="1.8" stroke="none" fill="#fff"/><text x="178.85" y="713.00">P210</text>
<rect x="171.80" y="728.40" width="14.1" height="6.4" rx="1.8" stroke="none" fill="#fff"/><text x="178.85" y="733.35">P198</text>
<rect x="171.80" y="789.45" width="14.1" height="6.4" rx="1.8" stroke="none" fill="#fff"/><text x="178.85" y="794.40">P161</text>
<rect x="171.80" y="809.80" width="14.1" height="6.4" rx="1.8" stroke="none" fill="#fff"/><text x="178.85" y="814.75">P146</text>
<rect x="191.25" y="565.60" width="14.1" height="6.4" rx="1.8" stroke="none" fill="#fff"/><text x="198.30" y="570.55">P149</text>
<rect x="191.25" y="606.30" width="14.1" height="6.4" rx="1.8" stroke="none" fill="#fff"/><text x="198.30" y="611.25">P249</text>
<rect x="191.25" y="667.35" width="14.1" height="6.4" rx="1.8" stroke="none" fill="#fff"/><text x="198.30" y="672.30">P216</text>
<rect x="191.25" y="708.05" width="14.1" height="6.4" rx="1.8" stroke="none" fill="#fff"/><text x="198.30" y="713.00">P211</text>
<rect x="191.25" y="809.80" width="14.1" height="6.4" rx="1.8" stroke="none" fill="#fff"/><text x="198.30" y="814.75">P147</text>
<rect x="210.70" y="585.95" width="14.1" height="6.4" rx="1.8" stroke="none" fill="#fff"/><text x="217.75" y="590.90">P259</text>
<rect x="210.70" y="606.30" width="14.1" height="6.4" rx="1.8" stroke="none" fill="#fff"/><text x="217.75" y="611.25">P250</text>
<rect x="210.70" y="667.35" width="14.1" height="6.4" rx="1.8" stroke="none" fill="#fff"/><text x="217.75" y="672.30">P230</text>
<rect x="210.70" y="687.70" width="14.1" height="6.4" rx="1.8" stroke="none" fill="#fff"/><text x="217.75" y="692.65">P218</text>
<rect x="210.70" y="728.40" width="14.1" height="6.4" rx="1.8" stroke="none" fill="#fff"/><text x="217.75" y="733.35">P199</text>
<rect x="210.70" y="769.10" width="14.1" height="6.4" rx="1.8" stroke="none" fill="#fff"/><text x="217.75" y="774.05">P186</text>
<rect x="210.70" y="809.80" width="14.1" height="6.4" rx="1.8" stroke="none" fill="#fff"/><text x="217.75" y="814.75">P148</text>
<rect x="230.15" y="565.60" width="14.1" height="6.4" rx="1.8" stroke="none" fill="#fff"/><text x="237.20" y="570.55">P267</text>
<rect x="230.15" y="647.00" width="14.1" height="6.4" rx="1.8" stroke="none" fill="#fff"/><text x="237.20" y="651.95">P229</text>
<rect x="230.15" y="667.35" width="14.1" height="6.4" rx="1.8" stroke="none" fill="#fff"/><text x="237.20" y="672.30">P177</text>
<rect x="230.15" y="728.40" width="14.1" height="6.4" rx="1.8" stroke="none" fill="#fff"/><text x="237.20" y="733.35">P200</text>
<rect x="230.15" y="789.45" width="14.1" height="6.4" rx="1.8" stroke="none" fill="#fff"/><text x="237.20" y="794.40">P170</text>
<rect x="249.60" y="565.60" width="14.1" height="6.4" rx="1.8" stroke="none" fill="#fff"/><text x="256.65" y="570.55">P268</text>
<rect x="249.60" y="585.95" width="14.1" height="6.4" rx="1.8" stroke="none" fill="#fff"/><text x="256.65" y="590.90">P260</text>
<rect x="249.60" y="647.00" width="14.1" height="6.4" rx="1.8" stroke="none" fill="#fff"/><text x="256.65" y="651.95">P222</text>
<rect x="249.60" y="667.35" width="14.1" height="6.4" rx="1.8" stroke="none" fill="#fff"/><text x="256.65" y="672.30">P228</text>
<rect x="249.60" y="728.40" width="14.1" height="6.4" rx="1.8" stroke="none" fill="#fff"/><text x="256.65" y="733.35">P192</text>
<rect x="249.60" y="748.75" width="14.1" height="6.4" rx="1.8" stroke="none" fill="#fff"/><text x="256.65" y="753.70">P191</text>
<rect x="249.60" y="769.10" width="14.1" height="6.4" rx="1.8" stroke="none" fill="#fff"/><text x="256.65" y="774.05">P179</text>
<rect x="249.60" y="809.80" width="14.1" height="6.4" rx="1.8" stroke="none" fill="#fff"/><text x="256.65" y="814.75">P149</text>
<rect x="269.05" y="565.60" width="14.1" height="6.4" rx="1.8" stroke="none" fill="#fff"/><text x="276.10" y="570.55">P267</text>
<rect x="269.05" y="606.30" width="14.1" height="6.4" rx="1.8" stroke="none" fill="#fff"/><text x="276.10" y="611.25">P251</text>
<rect x="269.05" y="647.00" width="14.1" height="6.4" rx="1.8" stroke="none" fill="#fff"/><text x="276.10" y="651.95">P240</text>
<rect x="269.05" y="667.35" width="14.1" height="6.4" rx="1.8" stroke="none" fill="#fff"/><text x="276.10" y="672.30">P227</text>
<rect x="269.05" y="728.40" width="14.1" height="6.4" rx="1.8" stroke="none" fill="#fff"/><text x="276.10" y="733.35">P177</text>
<rect x="269.05" y="748.75" width="14.1" height="6.4" rx="1.8" stroke="none" fill="#fff"/><text x="276.10" y="753.70">P192</text>
<rect x="269.05" y="809.80" width="14.1" height="6.4" rx="1.8" stroke="none" fill="#fff"/><text x="276.10" y="814.75">P150</text>
<rect x="288.50" y="585.95" width="14.1" height="6.4" rx="1.8" stroke="none" fill="#fff"/><text x="295.55" y="590.90">P261</text>
<rect x="288.50" y="606.30" width="14.1" height="6.4" rx="1.8" stroke="none" fill="#fff"/><text x="295.55" y="611.25">P252</text>
<rect x="288.50" y="647.00" width="14.1" height="6.4" rx="1.8" stroke="none" fill="#fff"/><text x="295.55" y="651.95">P241</text>
<rect x="288.50" y="687.70" width="14.1" height="6.4" rx="1.8" stroke="none" fill="#fff"/><text x="295.55" y="692.65">P208</text>
<rect x="288.50" y="728.40" width="14.1" height="6.4" rx="1.8" stroke="none" fill="#fff"/><text x="295.55" y="733.35">P193</text>
<rect x="288.50" y="769.10" width="14.1" height="6.4" rx="1.8" stroke="none" fill="#fff"/><text x="295.55" y="774.05">P180</text>
<rect x="307.95" y="606.30" width="14.1" height="6.4" rx="1.8" stroke="none" fill="#fff"/><text x="315.00" y="611.25">P253</text>
<rect x="307.95" y="626.65" width="14.1" height="6.4" rx="1.8" stroke="none" fill="#fff"/><text x="315.00" y="631.60">P245</text>
<rect x="307.95" y="647.00" width="14.1" height="6.4" rx="1.8" stroke="none" fill="#fff"/><text x="315.00" y="651.95">P177</text>
<rect x="307.95" y="667.35" width="14.1" height="6.4" rx="1.8" stroke="none" fill="#fff"/><text x="315.00" y="672.30">P226</text>
<rect x="307.95" y="687.70" width="14.1" height="6.4" rx="1.8" stroke="none" fill="#fff"/><text x="315.00" y="692.65">P219</text>
<rect x="307.95" y="728.40" width="14.1" height="6.4" rx="1.8" stroke="none" fill="#fff"/><text x="315.00" y="733.35">P201</text>
<rect x="307.95" y="748.75" width="14.1" height="6.4" rx="1.8" stroke="none" fill="#fff"/><text x="315.00" y="753.70">P193</text>
<rect x="307.95" y="769.10" width="14.1" height="6.4" rx="1.8" stroke="none" fill="#fff"/><text x="315.00" y="774.05">P182</text>
<rect x="307.95" y="809.80" width="14.1" height="6.4" rx="1.8" stroke="none" fill="#fff"/><text x="315.00" y="814.75">P151</text>
<rect x="327.40" y="565.60" width="14.1" height="6.4" rx="1.8" stroke="none" fill="#fff"/><text x="334.45" y="570.55">P269</text>
<rect x="327.40" y="606.30" width="14.1" height="6.4" rx="1.8" stroke="none" fill="#fff"/><text x="334.45" y="611.25">P254</text>
<rect x="327.40" y="626.65" width="14.1" height="6.4" rx="1.8" stroke="none" fill="#fff"/><text x="334.45" y="631.60">P248</text>
<rect x="327.40" y="708.05" width="14.1" height="6.4" rx="1.8" stroke="none" fill="#fff"/><text x="334.45" y="713.00">P212</text>
<rect x="327.40" y="728.40" width="14.1" height="6.4" rx="1.8" stroke="none" fill="#fff"/><text x="334.45" y="733.35">P202</text>
<rect x="327.40" y="748.75" width="14.1" height="6.4" rx="1.8" stroke="none" fill="#fff"/><text x="334.45" y="753.70">P194</text>
<rect x="327.40" y="769.10" width="14.1" height="6.4" rx="1.8" stroke="none" fill="#fff"/><text x="334.45" y="774.05">P181</text>
<rect x="327.40" y="789.45" width="14.1" height="6.4" rx="1.8" stroke="none" fill="#fff"/><text x="334.45" y="794.40">P171</text>
<rect x="327.40" y="809.80" width="14.1" height="6.4" rx="1.8" stroke="none" fill="#fff"/><text x="334.45" y="814.75">P152</text>
<rect x="346.85" y="565.60" width="14.1" height="6.4" rx="1.8" stroke="none" fill="#fff"/><text x="353.90" y="570.55">P270</text>
<rect x="346.85" y="585.95" width="14.1" height="6.4" rx="1.8" stroke="none" fill="#fff"/><text x="353.90" y="590.90">P262</text>
<rect x="346.85" y="606.30" width="14.1" height="6.4" rx="1.8" stroke="none" fill="#fff"/><text x="353.90" y="611.25">P255</text>
<rect x="346.85" y="667.35" width="14.1" height="6.4" rx="1.8" stroke="none" fill="#fff"/><text x="353.90" y="672.30">P226</text>
<rect x="346.85" y="728.40" width="14.1" height="6.4" rx="1.8" stroke="none" fill="#fff"/><text x="353.90" y="733.35">P203</text>
<rect x="346.85" y="789.45" width="14.1" height="6.4" rx="1.8" stroke="none" fill="#fff"/><text x="353.90" y="794.40">P175</text>
<rect x="346.85" y="809.80" width="14.1" height="6.4" rx="1.8" stroke="none" fill="#fff"/><text x="353.90" y="814.75">P153</text>
<rect x="366.30" y="565.60" width="14.1" height="6.4" rx="1.8" stroke="none" fill="#fff"/><text x="373.35" y="570.55">P260</text>
<rect x="366.30" y="585.95" width="14.1" height="6.4" rx="1.8" stroke="none" fill="#fff"/><text x="373.35" y="590.90">P263</text>
<rect x="366.30" y="626.65" width="14.1" height="6.4" rx="1.8" stroke="none" fill="#fff"/><text x="373.35" y="631.60">P177</text>
<rect x="366.30" y="687.70" width="14.1" height="6.4" rx="1.8" stroke="none" fill="#fff"/><text x="373.35" y="692.65">P220</text>
<rect x="366.30" y="769.10" width="14.1" height="6.4" rx="1.8" stroke="none" fill="#fff"/><text x="373.35" y="774.05">P182</text>
<rect x="366.30" y="809.80" width="14.1" height="6.4" rx="1.8" stroke="none" fill="#fff"/><text x="373.35" y="814.75">P154</text>
<rect x="385.75" y="626.65" width="14.1" height="6.4" rx="1.8" stroke="none" fill="#fff"/><text x="392.80" y="631.60">P247</text>
<rect x="385.75" y="667.35" width="14.1" height="6.4" rx="1.8" stroke="none" fill="#fff"/><text x="392.80" y="672.30">P230</text>
<rect x="385.75" y="708.05" width="14.1" height="6.4" rx="1.8" stroke="none" fill="#fff"/><text x="392.80" y="713.00">P213</text>
<rect x="385.75" y="728.40" width="14.1" height="6.4" rx="1.8" stroke="none" fill="#fff"/><text x="392.80" y="733.35">P204</text>
<rect x="385.75" y="748.75" width="14.1" height="6.4" rx="1.8" stroke="none" fill="#fff"/><text x="392.80" y="753.70">P195</text>
<rect x="385.75" y="769.10" width="14.1" height="6.4" rx="1.8" stroke="none" fill="#fff"/><text x="392.80" y="774.05">P183</text>
<rect x="385.75" y="789.45" width="14.1" height="6.4" rx="1.8" stroke="none" fill="#fff"/><text x="392.80" y="794.40">P173</text>
<rect x="385.75" y="809.80" width="14.1" height="6.4" rx="1.8" stroke="none" fill="#fff"/><text x="392.80" y="814.75">P155</text>
<rect x="405.20" y="565.60" width="14.1" height="6.4" rx="1.8" stroke="none" fill="#fff"/><text x="412.25" y="570.55">P271</text>
<rect x="405.20" y="585.95" width="14.1" height="6.4" rx="1.8" stroke="none" fill="#fff"/><text x="412.25" y="590.90">P264</text>
<rect x="405.20" y="606.30" width="14.1" height="6.4" rx="1.8" stroke="none" fill="#fff"/><text x="412.25" y="611.25">P256</text>
<rect x="405.20" y="626.65" width="14.1" height="6.4" rx="1.8" stroke="none" fill="#fff"/><text x="412.25" y="631.60">P244</text>
<rect x="405.20" y="667.35" width="14.1" height="6.4" rx="1.8" stroke="none" fill="#fff"/><text x="412.25" y="672.30">P231</text>
<rect x="405.20" y="728.40" width="14.1" height="6.4" rx="1.8" stroke="none" fill="#fff"/><text x="412.25" y="733.35">P190</text>
<rect x="405.20" y="769.10" width="14.1" height="6.4" rx="1.8" stroke="none" fill="#fff"/><text x="412.25" y="774.05">P184</text>
<rect x="405.20" y="789.45" width="14.1" height="6.4" rx="1.8" stroke="none" fill="#fff"/><text x="412.25" y="794.40">P174</text>
<rect x="405.20" y="809.80" width="14.1" height="6.4" rx="1.8" stroke="none" fill="#fff"/><text x="412.25" y="814.75">P156</text>
<rect x="424.65" y="809.80" width="14.1" height="6.4" rx="1.8" stroke="none" fill="#fff"/><text x="431.70" y="814.75">P157</text>
<rect x="444.10" y="626.65" width="14.1" height="6.4" rx="1.8" stroke="none" fill="#fff"/><text x="451.15" y="631.60">P243</text>
<rect x="444.10" y="647.00" width="14.1" height="6.4" rx="1.8" stroke="none" fill="#fff"/><text x="451.15" y="651.95">P242</text>
<rect x="444.10" y="728.40" width="14.1" height="6.4" rx="1.8" stroke="none" fill="#fff"/><text x="451.15" y="733.35">P205</text>
<rect x="444.10" y="748.75" width="14.1" height="6.4" rx="1.8" stroke="none" fill="#fff"/><text x="451.15" y="753.70">P198</text>
<rect x="444.10" y="769.10" width="14.1" height="6.4" rx="1.8" stroke="none" fill="#fff"/><text x="451.15" y="774.05">P185</text>
<rect x="444.10" y="809.80" width="14.1" height="6.4" rx="1.8" stroke="none" fill="#fff"/><text x="451.15" y="814.75">P158</text>
<rect x="463.55" y="585.95" width="14.1" height="6.4" rx="1.8" stroke="none" fill="#fff"/><text x="470.60" y="590.90">P265</text>
<rect x="463.55" y="606.30" width="14.1" height="6.4" rx="1.8" stroke="none" fill="#fff"/><text x="470.60" y="611.25">P257</text>
<rect x="463.55" y="647.00" width="14.1" height="6.4" rx="1.8" stroke="none" fill="#fff"/><text x="470.60" y="651.95">P225</text>
<rect x="463.55" y="687.70" width="14.1" height="6.4" rx="1.8" stroke="none" fill="#fff"/><text x="470.60" y="692.65">P221</text>
<rect x="463.55" y="708.05" width="14.1" height="6.4" rx="1.8" stroke="none" fill="#fff"/><text x="470.60" y="713.00">P214</text>
<rect x="463.55" y="748.75" width="14.1" height="6.4" rx="1.8" stroke="none" fill="#fff"/><text x="470.60" y="753.70">P158</text>
<rect x="463.55" y="809.80" width="14.1" height="6.4" rx="1.8" stroke="none" fill="#fff"/><text x="470.60" y="814.75">P159</text>
<rect x="483.00" y="647.00" width="14.1" height="6.4" rx="1.8" stroke="none" fill="#fff"/><text x="490.05" y="651.95">P165</text>
<rect x="483.00" y="667.35" width="14.1" height="6.4" rx="1.8" stroke="none" fill="#fff"/><text x="490.05" y="672.30">P231</text>
<rect x="483.00" y="708.05" width="14.1" height="6.4" rx="1.8" stroke="none" fill="#fff"/><text x="490.05" y="713.00">P215</text>
<rect x="483.00" y="809.80" width="14.1" height="6.4" rx="1.8" stroke="none" fill="#fff"/><text x="490.05" y="814.75">P160</text>
<rect x="502.45" y="647.00" width="14.1" height="6.4" rx="1.8" stroke="none" fill="#fff"/><text x="509.50" y="651.95">P150</text>
<rect x="502.45" y="667.35" width="14.1" height="6.4" rx="1.8" stroke="none" fill="#fff"/><text x="509.50" y="672.30">P232</text>
<rect x="502.45" y="687.70" width="14.1" height="6.4" rx="1.8" stroke="none" fill="#fff"/><text x="509.50" y="692.65">P222</text>
<rect x="502.45" y="708.05" width="14.1" height="6.4" rx="1.8" stroke="none" fill="#fff"/><text x="509.50" y="713.00">P197</text>
<rect x="502.45" y="748.75" width="14.1" height="6.4" rx="1.8" stroke="none" fill="#fff"/><text x="509.50" y="753.70">P190</text>
<rect x="502.45" y="769.10" width="14.1" height="6.4" rx="1.8" stroke="none" fill="#fff"/><text x="509.50" y="774.05">P186</text>
<rect x="502.45" y="789.45" width="14.1" height="6.4" rx="1.8" stroke="none" fill="#fff"/><text x="509.50" y="794.40">P175</text>
<rect x="502.45" y="809.80" width="14.1" height="6.4" rx="1.8" stroke="none" fill="#fff"/><text x="509.50" y="814.75">P161</text>
<rect x="521.90" y="667.35" width="14.1" height="6.4" rx="1.8" stroke="none" fill="#fff"/><text x="528.95" y="672.30">P233</text>
<rect x="521.90" y="708.05" width="14.1" height="6.4" rx="1.8" stroke="none" fill="#fff"/><text x="528.95" y="713.00">P216</text>
<rect x="521.90" y="769.10" width="14.1" height="6.4" rx="1.8" stroke="none" fill="#fff"/><text x="528.95" y="774.05">P187</text>
<rect x="521.90" y="789.45" width="14.1" height="6.4" rx="1.8" stroke="none" fill="#fff"/><text x="528.95" y="794.40">P176</text>
<rect x="521.90" y="809.80" width="14.1" height="6.4" rx="1.8" stroke="none" fill="#fff"/><text x="528.95" y="814.75">P162</text>
<rect x="541.35" y="606.30" width="14.1" height="6.4" rx="1.8" stroke="none" fill="#fff"/><text x="548.40" y="611.25">P177</text>
<rect x="541.35" y="647.00" width="14.1" height="6.4" rx="1.8" stroke="none" fill="#fff"/><text x="548.40" y="651.95">P240</text>
<rect x="541.35" y="667.35" width="14.1" height="6.4" rx="1.8" stroke="none" fill="#fff"/><text x="548.40" y="672.30">P234</text>
<rect x="541.35" y="748.75" width="14.1" height="6.4" rx="1.8" stroke="none" fill="#fff"/><text x="548.40" y="753.70">P193</text>
<rect x="541.35" y="769.10" width="14.1" height="6.4" rx="1.8" stroke="none" fill="#fff"/><text x="548.40" y="774.05">P188</text>
<rect x="541.35" y="809.80" width="14.1" height="6.4" rx="1.8" stroke="none" fill="#fff"/><text x="548.40" y="814.75">P163</text>
<rect x="560.80" y="647.00" width="14.1" height="6.4" rx="1.8" stroke="none" fill="#fff"/><text x="567.85" y="651.95">P241</text>
<rect x="560.80" y="687.70" width="14.1" height="6.4" rx="1.8" stroke="none" fill="#fff"/><text x="567.85" y="692.65">P223</text>
<rect x="560.80" y="748.75" width="14.1" height="6.4" rx="1.8" stroke="none" fill="#fff"/><text x="567.85" y="753.70">P172</text>
<rect x="560.80" y="769.10" width="14.1" height="6.4" rx="1.8" stroke="none" fill="#fff"/><text x="567.85" y="774.05">P183</text>
<rect x="560.80" y="809.80" width="14.1" height="6.4" rx="1.8" stroke="none" fill="#fff"/><text x="567.85" y="814.75">P164</text>
<rect x="580.25" y="606.30" width="14.1" height="6.4" rx="1.8" stroke="none" fill="#fff"/><text x="587.30" y="611.25">P177</text>
<rect x="580.25" y="687.70" width="14.1" height="6.4" rx="1.8" stroke="none" fill="#fff"/><text x="587.30" y="692.65">P224</text>
<rect x="580.25" y="728.40" width="14.1" height="6.4" rx="1.8" stroke="none" fill="#fff"/><text x="587.30" y="733.35">P200</text>
<rect x="580.25" y="748.75" width="14.1" height="6.4" rx="1.8" stroke="none" fill="#fff"/><text x="587.30" y="753.70">P177</text>
<rect x="580.25" y="769.10" width="14.1" height="6.4" rx="1.8" stroke="none" fill="#fff"/><text x="587.30" y="774.05">P189</text>
<rect x="580.25" y="809.80" width="14.1" height="6.4" rx="1.8" stroke="none" fill="#fff"/><text x="587.30" y="814.75">P165</text>
<rect x="599.70" y="606.30" width="14.1" height="6.4" rx="1.8" stroke="none" fill="#fff"/><text x="606.75" y="611.25">P258</text>
<rect x="599.70" y="626.65" width="14.1" height="6.4" rx="1.8" stroke="none" fill="#fff"/><text x="606.75" y="631.60">P248</text>
<rect x="599.70" y="647.00" width="14.1" height="6.4" rx="1.8" stroke="none" fill="#fff"/><text x="606.75" y="651.95">P243</text>
<rect x="599.70" y="667.35" width="14.1" height="6.4" rx="1.8" stroke="none" fill="#fff"/><text x="606.75" y="672.30">P232</text>
<rect x="599.70" y="708.05" width="14.1" height="6.4" rx="1.8" stroke="none" fill="#fff"/><text x="606.75" y="713.00">P217</text>
<rect x="599.70" y="728.40" width="14.1" height="6.4" rx="1.8" stroke="none" fill="#fff"/><text x="606.75" y="733.35">P207</text>
<rect x="599.70" y="748.75" width="14.1" height="6.4" rx="1.8" stroke="none" fill="#fff"/><text x="606.75" y="753.70">P196</text>
<rect x="599.70" y="789.45" width="14.1" height="6.4" rx="1.8" stroke="none" fill="#fff"/><text x="606.75" y="794.40">P177</text>
<rect x="599.70" y="809.80" width="14.1" height="6.4" rx="1.8" stroke="none" fill="#fff"/><text x="606.75" y="814.75">P158</text>
</g>
<g opacity="1" fill-opacity="0.6">
<circle cx="101.05" cy="568.80" r="4.0" fill="#f0a821"/>
<circle cx="101.05" cy="609.50" r="4.0" fill="#f0a821"/>
<circle cx="101.05" cy="670.55" r="4.0" fill="#f0a821"/>
<circle cx="101.05" cy="690.90" r="13.6" fill="#f0a821"/>
<circle cx="101.05" cy="711.25" r="8.0" fill="#f0a821"/>
<circle cx="101.05" cy="731.60" r="2.2" fill="#f0a821"/>
<circle cx="101.05" cy="751.95" r="4.0" fill="#f0a821"/>
<circle cx="101.05" cy="792.65" r="2.2" fill="#4bb2d8"/>
<path d="M101.05 813.00L101.05 806.80A6.2 6.2 0 0 1 106.19 816.47Z" fill="#4bb2d8"/>
<path d="M101.05 813.00L106.19 816.47A6.2 6.2 0 1 1 101.05 806.80Z" fill="#f0a821"/>
<circle cx="120.50" cy="629.85" r="2.2" fill="#f0a821"/>
<circle cx="120.50" cy="670.55" r="2.2" fill="#4bb2d8"/>
<circle cx="120.50" cy="711.25" r="6.2" fill="#f0a821"/>
<circle cx="120.50" cy="772.30" r="2.2" fill="#f0a821"/>
<circle cx="139.95" cy="568.80" r="8.0" fill="#4bb2d8"/>
<circle cx="139.95" cy="609.50" r="8.0" fill="#4bb2d8"/>
<circle cx="139.95" cy="711.25" r="4.0" fill="#4bb2d8"/>
<circle cx="139.95" cy="731.60" r="2.2" fill="#f0a821"/>
<circle cx="139.95" cy="751.95" r="4.0" fill="#f0a821"/>
<circle cx="139.95" cy="813.00" r="2.2" fill="#f0a821"/>
<circle cx="159.40" cy="568.80" r="2.2" fill="#4bb2d8"/>
<circle cx="159.40" cy="609.50" r="4.0" fill="#4bb2d8"/>
<circle cx="159.40" cy="650.20" r="2.2" fill="#4bb2d8"/>
<circle cx="159.40" cy="670.55" r="4.0" fill="#4bb2d8"/>
<circle cx="159.40" cy="690.90" r="2.2" fill="#f0a821"/>
<circle cx="159.40" cy="711.25" r="2.2" fill="#f0a821"/>
<path d="M159.40 731.60L159.40 727.60A4.0 4.0 0 0 1 159.40 735.60Z" fill="#4bb2d8"/>
<path d="M159.40 731.60L159.40 735.60A4.0 4.0 0 0 1 159.40 727.60Z" fill="#f0a821"/>
<circle cx="159.40" cy="751.95" r="2.2" fill="#f0a821"/>
<circle cx="159.40" cy="772.30" r="2.2" fill="#f0a821"/>
<circle cx="159.40" cy="813.00" r="2.2" fill="#4bb2d8"/>
<circle cx="178.85" cy="568.80" r="2.2" fill="#f0a821"/>
<circle cx="178.85" cy="609.50" r="2.2" fill="#f0a821"/>
<circle cx="178.85" cy="670.55" r="8.0" fill="#f0a821"/>
<circle cx="178.85" cy="690.90" r="4.0" fill="#4bb2d8"/>
<circle cx="178.85" cy="751.95" r="2.2" fill="#f0a821"/>
<circle cx="178.85" cy="772.30" r="2.2" fill="#f0a821"/>
<circle cx="178.85" cy="792.65" r="2.2" fill="#f0a821"/>
<circle cx="178.85" cy="813.00" r="4.0" fill="#f0a821"/>
<circle cx="198.30" cy="609.50" r="4.0" fill="#4bb2d8"/>
<circle cx="198.30" cy="731.60" r="4.0" fill="#f0a821"/>
<circle cx="198.30" cy="792.65" r="4.0" fill="#f0a821"/>
<circle cx="198.30" cy="813.00" r="4.0" fill="#f0a821"/>
<path d="M217.75 670.55L217.75 678.55A8.0 8.0 0 0 1 209.75 670.55Z" fill="#f0a821"/>
<path d="M217.75 670.55L209.75 670.55A8.0 8.0 0 1 1 217.75 678.55Z" fill="#4bb2d8"/>
<circle cx="217.75" cy="711.25" r="9.8" fill="#4bb2d8"/>
<circle cx="217.75" cy="731.60" r="2.2" fill="#f0a821"/>
<circle cx="217.75" cy="751.95" r="6.2" fill="#f0a821"/>
<circle cx="217.75" cy="772.30" r="2.2" fill="#f0a821"/>
<circle cx="217.75" cy="792.65" r="2.2" fill="#f0a821"/>
<circle cx="217.75" cy="813.00" r="2.2" fill="#f0a821"/>
<circle cx="237.20" cy="568.80" r="2.2" fill="#f0a821"/>
<circle cx="237.20" cy="629.85" r="2.2" fill="#f0a821"/>
<circle cx="237.20" cy="690.90" r="4.0" fill="#4bb2d8"/>
<circle cx="237.20" cy="711.25" r="4.0" fill="#4bb2d8"/>
<circle cx="237.20" cy="731.60" r="6.2" fill="#4bb2d8"/>
<circle cx="237.20" cy="772.30" r="2.2" fill="#f0a821"/>
<circle cx="256.65" cy="629.85" r="6.2" fill="#4bb2d8"/>
<path d="M256.65 650.20L256.65 640.40A9.8 9.8 0 1 1 250.89 658.13Z" fill="#f0a821"/>
<path d="M256.65 650.20L250.89 658.13A9.8 9.8 0 0 1 256.65 640.40Z" fill="#4bb2d8"/>
<circle cx="256.65" cy="670.55" r="2.2" fill="#f0a821"/>
<circle cx="256.65" cy="690.90" r="9.8" fill="#f0a821"/>
<circle cx="256.65" cy="711.25" r="4.0" fill="#f0a821"/>
<circle cx="256.65" cy="731.60" r="9.8" fill="#f0a821"/>
<circle cx="256.65" cy="751.95" r="2.2" fill="#4bb2d8"/>
<path d="M256.65 772.30L256.65 768.30A4.0 4.0 0 0 1 256.65 776.30Z" fill="#4bb2d8"/>
<path d="M256.65 772.30L256.65 776.30A4.0 4.0 0 0 1 256.65 768.30Z" fill="#f0a821"/>
<circle cx="256.65" cy="813.00" r="4.0" fill="#f0a821"/>
<circle cx="276.10" cy="568.80" r="2.2" fill="#4bb2d8"/>
<circle cx="276.10" cy="731.60" r="8.0" fill="#4bb2d8"/>
<path d="M276.10 751.95L276.10 745.75A6.2 6.2 0 0 1 281.47 755.05Z" fill="#4bb2d8"/>
<path d="M276.10 751.95L281.47 755.05A6.2 6.2 0 1 1 276.10 745.75Z" fill="#f0a821"/>
<circle cx="276.10" cy="772.30" r="2.2" fill="#4bb2d8"/>
<path d="M276.10 792.65L276.10 788.65A4.0 4.0 0 0 1 276.10 796.65Z" fill="#4bb2d8"/>
<path d="M276.10 792.65L276.10 796.65A4.0 4.0 0 0 1 276.10 788.65Z" fill="#f0a821"/>
<circle cx="276.10" cy="813.00" r="8.0" fill="#f0a821"/>
<circle cx="295.55" cy="589.15" r="4.0" fill="#4bb2d8"/>
<circle cx="295.55" cy="650.20" r="2.2" fill="#f0a821"/>
<circle cx="295.55" cy="670.55" r="9.8" fill="#4bb2d8"/>
<circle cx="295.55" cy="711.25" r="2.2" fill="#f0a821"/>
<path d="M295.55 731.60L295.55 721.80A9.8 9.8 0 0 1 304.87 728.57Z" fill="#4bb2d8"/>
<path d="M295.55 731.60L304.87 728.57A9.8 9.8 0 1 1 295.55 721.80Z" fill="#f0a821"/>
<circle cx="295.55" cy="751.95" r="2.2" fill="#f0a821"/>
<path d="M295.55 772.30L295.55 764.30A8.0 8.0 0 1 1 287.55 772.30Z" fill="#f0a821"/>
<path d="M295.55 772.30L287.55 772.30A8.0 8.0 0 0 1 295.55 764.30Z" fill="#4bb2d8"/>
<circle cx="295.55" cy="792.65" r="4.0" fill="#4bb2d8"/>
<circle cx="315.00" cy="670.55" r="2.2" fill="#4bb2d8"/>
<circle cx="315.00" cy="711.25" r="2.2" fill="#f0a821"/>
<circle cx="315.00" cy="731.60" r="2.2" fill="#f0a821"/>
<path d="M315.00 772.30L315.00 764.30A8.0 8.0 0 1 1 307.00 772.30Z" fill="#f0a821"/>
<path d="M315.00 772.30L307.00 772.30A8.0 8.0 0 0 1 315.00 764.30Z" fill="#4bb2d8"/>
<circle cx="334.45" cy="609.50" r="2.2" fill="#4bb2d8"/>
<circle cx="334.45" cy="650.20" r="6.2" fill="#4bb2d8"/>
<circle cx="334.45" cy="670.55" r="2.2" fill="#4bb2d8"/>
<path d="M334.45 690.90L334.45 684.70A6.2 6.2 0 1 1 329.08 694.00Z" fill="#4bb2d8"/>
<path d="M334.45 690.90L329.08 694.00A6.2 6.2 0 0 1 334.45 684.70Z" fill="#f0a821"/>
<path d="M334.45 711.25L334.45 707.25A4.0 4.0 0 0 1 334.45 715.25Z" fill="#4bb2d8"/>
<path d="M334.45 711.25L334.45 715.25A4.0 4.0 0 0 1 334.45 707.25Z" fill="#f0a821"/>
<path d="M334.45 772.30L334.45 768.30A4.0 4.0 0 0 1 334.45 776.30Z" fill="#4bb2d8"/>
<path d="M334.45 772.30L334.45 776.30A4.0 4.0 0 0 1 334.45 768.30Z" fill="#f0a821"/>
<circle cx="334.45" cy="813.00" r="8.0" fill="#f0a821"/>
<circle cx="353.90" cy="650.20" r="2.2" fill="#4bb2d8"/>
<circle cx="353.90" cy="670.55" r="4.0" fill="#4bb2d8"/>
<path d="M353.90 690.90L353.90 684.70A6.2 6.2 0 1 1 348.53 694.00Z" fill="#4bb2d8"/>
<path d="M353.90 690.90L348.53 694.00A6.2 6.2 0 0 1 353.90 684.70Z" fill="#f0a821"/>
<circle cx="353.90" cy="711.25" r="4.0" fill="#4bb2d8"/>
<circle cx="353.90" cy="731.60" r="4.0" fill="#f0a821"/>
<circle cx="353.90" cy="751.95" r="2.2" fill="#f0a821"/>
<circle cx="353.90" cy="772.30" r="4.0" fill="#4bb2d8"/>
<circle cx="353.90" cy="792.65" r="4.0" fill="#4bb2d8"/>
<circle cx="353.90" cy="813.00" r="4.0" fill="#f0a821"/>
<circle cx="373.35" cy="650.20" r="9.8" fill="#4bb2d8"/>
<circle cx="373.35" cy="670.55" r="4.0" fill="#4bb2d8"/>
<circle cx="373.35" cy="711.25" r="2.2" fill="#f0a821"/>
<circle cx="373.35" cy="751.95" r="2.2" fill="#f0a821"/>
<circle cx="373.35" cy="792.65" r="2.2" fill="#4bb2d8"/>
<circle cx="392.80" cy="609.50" r="4.0" fill="#f0a821"/>
<circle cx="392.80" cy="650.20" r="2.2" fill="#f0a821"/>
<circle cx="392.80" cy="670.55" r="2.2" fill="#4bb2d8"/>
<circle cx="392.80" cy="690.90" r="2.2" fill="#f0a821"/>
<path d="M392.80 711.25L392.80 705.05A6.2 6.2 0 1 1 387.91 715.07Z" fill="#4bb2d8"/>
<path d="M392.80 711.25L387.91 715.07A6.2 6.2 0 0 1 392.80 705.05Z" fill="#f0a821"/>
<circle cx="392.80" cy="751.95" r="2.2" fill="#f0a821"/>
<circle cx="392.80" cy="813.00" r="2.2" fill="#4bb2d8"/>
<circle cx="412.25" cy="629.85" r="2.2" fill="#f0a821"/>
<circle cx="412.25" cy="650.20" r="2.2" fill="#f0a821"/>
<circle cx="412.25" cy="670.55" r="2.2" fill="#f0a821"/>
<path d="M412.25 690.90L412.25 679.10A11.8 11.8 0 1 1 402.03 685.00Z" fill="#f0a821"/>
<path d="M412.25 690.90L402.03 685.00A11.8 11.8 0 0 1 412.25 679.10Z" fill="#4bb2d8"/>
<path d="M412.25 711.25L412.25 705.05A6.2 6.2 0 0 1 417.62 714.35Z" fill="#4bb2d8"/>
<path d="M412.25 711.25L417.62 714.35A6.2 6.2 0 1 1 412.25 705.05Z" fill="#f0a821"/>
<circle cx="412.25" cy="731.60" r="2.2" fill="#f0a821"/>
<circle cx="412.25" cy="792.65" r="4.0" fill="#4bb2d8"/>
<path d="M412.25 813.00L425.04 823.73A16.7 16.7 0 0 1 412.25 829.70Z" fill="#f0a821"/>
<path d="M412.25 813.00L412.25 829.70A16.7 16.7 0 1 1 425.04 823.73Z" fill="#4bb2d8"/>
<circle cx="451.15" cy="568.80" r="2.2" fill="#4bb2d8"/>
<circle cx="451.15" cy="711.25" r="2.2" fill="#f0a821"/>
<circle cx="451.15" cy="792.65" r="2.2" fill="#f0a821"/>
<path d="M451.15 813.00L451.15 803.20A9.8 9.8 0 1 1 445.39 820.93Z" fill="#f0a821"/>
<path d="M451.15 813.00L445.39 820.93A9.8 9.8 0 0 1 451.15 803.20Z" fill="#4bb2d8"/>
<path d="M470.60 731.60L470.60 725.40A6.2 6.2 0 0 1 475.97 734.70Z" fill="#4bb2d8"/>
<path d="M470.60 731.60L475.97 734.70A6.2 6.2 0 1 1 470.60 725.40Z" fill="#f0a821"/>
<circle cx="470.60" cy="772.30" r="2.2" fill="#f0a821"/>
<path d="M470.60 792.65L470.60 784.65A8.0 8.0 0 1 1 462.60 792.65Z" fill="#f0a821"/>
<path d="M470.60 792.65L462.60 792.65A8.0 8.0 0 0 1 470.60 784.65Z" fill="#4bb2d8"/>
<path d="M470.60 813.00L470.60 806.80A6.2 6.2 0 0 1 475.97 816.10Z" fill="#4bb2d8"/>
<path d="M470.60 813.00L475.97 816.10A6.2 6.2 0 1 1 470.60 806.80Z" fill="#f0a821"/>
<path d="M490.05 690.90L490.05 686.90A4.0 4.0 0 0 1 490.05 694.90Z" fill="#4bb2d8"/>
<path d="M490.05 690.90L490.05 694.90A4.0 4.0 0 0 1 490.05 686.90Z" fill="#f0a821"/>
<circle cx="490.05" cy="731.60" r="2.2" fill="#f0a821"/>
<circle cx="490.05" cy="751.95" r="2.2" fill="#f0a821"/>
<path d="M490.05 813.00L490.05 803.20A9.8 9.8 0 1 1 484.29 820.93Z" fill="#4bb2d8"/>
<path d="M490.05 813.00L484.29 820.93A9.8 9.8 0 0 1 490.05 803.20Z" fill="#f0a821"/>
<circle cx="509.50" cy="670.55" r="2.2" fill="#4bb2d8"/>
<circle cx="509.50" cy="711.25" r="2.2" fill="#f0a821"/>
<circle cx="509.50" cy="731.60" r="4.0" fill="#4bb2d8"/>
<path d="M509.50 751.95L519.30 751.95A9.8 9.8 0 0 1 514.40 760.44Z" fill="#f0a821"/>
<path d="M509.50 751.95L514.40 760.44A9.8 9.8 0 1 1 519.30 751.95Z" fill="#4bb2d8"/>
<circle cx="509.50" cy="792.65" r="8.0" fill="#4bb2d8"/>
<path d="M509.50 813.00L509.50 799.40A13.6 13.6 0 0 1 509.50 826.60Z" fill="#f0a821"/>
<path d="M509.50 813.00L509.50 826.60A13.6 13.6 0 0 1 509.50 799.40Z" fill="#4bb2d8"/>
<circle cx="528.95" cy="568.80" r="2.2" fill="#f0a821"/>
<circle cx="528.95" cy="629.85" r="6.2" fill="#f0a821"/>
<circle cx="528.95" cy="670.55" r="2.2" fill="#f0a821"/>
<circle cx="528.95" cy="731.60" r="4.0" fill="#4bb2d8"/>
<circle cx="528.95" cy="751.95" r="8.0" fill="#4bb2d8"/>
<circle cx="528.95" cy="813.00" r="2.2" fill="#f0a821"/>
<path d="M548.40 589.15L548.40 585.15A4.0 4.0 0 0 1 548.40 593.15Z" fill="#4bb2d8"/>
<path d="M548.40 589.15L548.40 593.15A4.0 4.0 0 0 1 548.40 585.15Z" fill="#f0a821"/>
<circle cx="548.40" cy="650.20" r="2.2" fill="#4bb2d8"/>
<path d="M548.40 690.90L548.40 677.30A13.6 13.6 0 0 1 560.73 696.65Z" fill="#f0a821"/>
<path d="M548.40 690.90L560.73 696.65A13.6 13.6 0 1 1 548.40 677.30Z" fill="#4bb2d8"/>
<circle cx="548.40" cy="711.25" r="4.0" fill="#4bb2d8"/>
<path d="M548.40 733.20L532.92 726.94A16.7 16.7 0 0 1 543.24 717.32Z" fill="#f0a821"/>
<path d="M548.40 733.20L543.24 717.32A16.7 16.7 0 1 1 532.92 726.94Z" fill="#4bb2d8"/>
<circle cx="548.40" cy="751.95" r="4.0" fill="#f0a821"/>
<circle cx="548.40" cy="792.65" r="2.2" fill="#4bb2d8"/>
<path d="M548.40 813.00L548.40 803.20A9.8 9.8 0 1 1 542.50 820.83Z" fill="#f0a821"/>
<path d="M548.40 813.00L542.50 820.83A9.8 9.8 0 0 1 548.40 803.20Z" fill="#4bb2d8"/>
<circle cx="567.85" cy="568.80" r="2.2" fill="#f0a821"/>
<circle cx="567.85" cy="589.15" r="2.2" fill="#f0a821"/>
<circle cx="567.85" cy="609.50" r="2.2" fill="#f0a821"/>
<path d="M567.85 629.85L567.85 623.65A6.2 6.2 0 1 1 561.65 629.85Z" fill="#4bb2d8"/>
<path d="M567.85 629.85L561.65 629.85A6.2 6.2 0 0 1 567.85 623.65Z" fill="#f0a821"/>
<path d="M567.85 650.20L567.85 628.40A21.8 21.8 0 1 1 546.05 650.20Z" fill="#f0a821"/>
<path d="M567.85 650.20L546.05 650.20A21.8 21.8 0 0 1 567.85 628.40Z" fill="#4bb2d8"/>
<circle cx="567.85" cy="670.55" r="4.0" fill="#4bb2d8"/>
<circle cx="567.85" cy="711.25" r="2.2" fill="#4bb2d8"/>
<path d="M567.85 731.60L567.85 721.80A9.8 9.8 0 1 1 558.97 727.46Z" fill="#4bb2d8"/>
<path d="M567.85 731.60L558.97 727.46A9.8 9.8 0 0 1 567.85 721.80Z" fill="#f0a821"/>
<circle cx="567.85" cy="751.95" r="4.0" fill="#4bb2d8"/>
<circle cx="567.85" cy="772.30" r="2.2" fill="#4bb2d8"/>
<circle cx="567.85" cy="792.65" r="8.0" fill="#4bb2d8"/>
<circle cx="567.85" cy="813.00" r="4.0" fill="#4bb2d8"/>
<circle cx="587.30" cy="568.80" r="4.0" fill="#4bb2d8"/>
<circle cx="587.30" cy="589.15" r="2.2" fill="#4bb2d8"/>
<path d="M587.30 609.50L587.30 603.30A6.2 6.2 0 1 1 581.93 612.60Z" fill="#4bb2d8"/>
<path d="M587.30 609.50L581.93 612.60A6.2 6.2 0 0 1 587.30 603.30Z" fill="#f0a821"/>
<circle cx="587.30" cy="629.85" r="2.2" fill="#4bb2d8"/>
<path d="M587.30 650.20L587.30 628.40A21.8 21.8 0 0 1 603.50 664.79Z" fill="#4bb2d8"/>
<path d="M587.30 650.20L603.50 664.79A21.8 21.8 0 1 1 587.30 628.40Z" fill="#f0a821"/>
<path d="M587.30 670.55L587.30 662.55A8.0 8.0 0 0 1 587.30 678.55Z" fill="#4bb2d8"/>
<path d="M587.30 670.55L587.30 678.55A8.0 8.0 0 0 1 587.30 662.55Z" fill="#f0a821"/>
<circle cx="587.30" cy="690.90" r="6.2" fill="#4bb2d8"/>
<circle cx="587.30" cy="731.60" r="6.2" fill="#4bb2d8"/>
<circle cx="587.30" cy="751.95" r="2.2" fill="#4bb2d8"/>
<circle cx="587.30" cy="792.65" r="6.2" fill="#f0a821"/>
<circle cx="587.30" cy="813.00" r="6.2" fill="#f0a821"/>
<circle cx="606.75" cy="629.85" r="2.2" fill="#4bb2d8"/>
<path d="M606.75 650.20L606.75 646.20A4.0 4.0 0 0 1 606.75 654.20Z" fill="#4bb2d8"/>
<path d="M606.75 650.20L606.75 654.20A4.0 4.0 0 0 1 606.75 646.20Z" fill="#f0a821"/>
<circle cx="606.75" cy="670.55" r="4.0" fill="#4bb2d8"/>
</g>
<g fill="none" stroke="#7d7d7d" stroke-width="0.78">
<rect x="74.55" y="626.65" width="14.1" height="6.4" rx="1.8"/>
<rect x="74.55" y="647.00" width="14.1" height="6.4" rx="1.8"/>
<rect x="74.55" y="708.05" width="14.1" height="6.4" rx="1.8"/>
<rect x="74.55" y="728.40" width="14.1" height="6.4" rx="1.8"/>
<rect x="74.55" y="748.75" width="14.1" height="6.4" rx="1.8"/>
<rect x="74.55" y="789.45" width="14.1" height="6.4" rx="1.8"/>
<rect x="74.55" y="809.80" width="14.1" height="6.4" rx="1.8"/>
<rect x="94.00" y="809.80" width="14.1" height="6.4" rx="1.8"/>
<rect x="113.45" y="626.65" width="14.1" height="6.4" rx="1.8"/>
<rect x="113.45" y="647.00" width="14.1" height="6.4" rx="1.8"/>
<rect x="113.45" y="667.35" width="14.1" height="6.4" rx="1.8"/>
<rect x="113.45" y="728.40" width="14.1" height="6.4" rx="1.8"/>
<rect x="113.45" y="748.75" width="14.1" height="6.4" rx="1.8"/>
<rect x="113.45" y="789.45" width="14.1" height="6.4" rx="1.8"/>
<rect x="113.45" y="809.80" width="14.1" height="6.4" rx="1.8"/>
<rect x="132.90" y="585.95" width="14.1" height="6.4" rx="1.8"/>
<rect x="132.90" y="647.00" width="14.1" height="6.4" rx="1.8"/>
<rect x="132.90" y="687.70" width="14.1" height="6.4" rx="1.8"/>
<rect x="132.90" y="708.05" width="14.1" height="6.4" rx="1.8"/>
<rect x="132.90" y="728.40" width="14.1" height="6.4" rx="1.8"/>
<rect x="132.90" y="789.45" width="14.1" height="6.4" rx="1.8"/>
<rect x="132.90" y="809.80" width="14.1" height="6.4" rx="1.8"/>
<rect x="152.35" y="565.60" width="14.1" height="6.4" rx="1.8"/>
<rect x="152.35" y="647.00" width="14.1" height="6.4" rx="1.8"/>
<rect x="152.35" y="667.35" width="14.1" height="6.4" rx="1.8"/>
<rect x="152.35" y="728.40" width="14.1" height="6.4" rx="1.8"/>
<rect x="152.35" y="789.45" width="14.1" height="6.4" rx="1.8"/>
<rect x="152.35" y="809.80" width="14.1" height="6.4" rx="1.8"/>
<rect x="171.80" y="647.00" width="14.1" height="6.4" rx="1.8"/>
<rect x="171.80" y="667.35" width="14.1" height="6.4" rx="1.8"/>
<rect x="171.80" y="687.70" width="14.1" height="6.4" rx="1.8"/>
<rect x="171.80" y="708.05" width="14.1" height="6.4" rx="1.8"/>
<rect x="171.80" y="728.40" width="14.1" height="6.4" rx="1.8"/>
<rect x="171.80" y="789.45" width="14.1" height="6.4" rx="1.8"/>
<rect x="171.80" y="809.80" width="14.1" height="6.4" rx="1.8"/>
<rect x="191.25" y="565.60" width="14.1" height="6.4" rx="1.8"/>
<rect x="191.25" y="606.30" width="14.1" height="6.4" rx="1.8"/>
<rect x="191.25" y="667.35" width="14.1" height="6.4" rx="1.8"/>
<rect x="191.25" y="708.05" width="14.1" height="6.4" rx="1.8"/>
<rect x="191.25" y="809.80" width="14.1" height="6.4" rx="1.8"/>
<rect x="210.70" y="585.95" width="14.1" height="6.4" rx="1.8"/>
<rect x="210.70" y="606.30" width="14.1" height="6.4" rx="1.8"/>
<rect x="210.70" y="667.35" width="14.1" height="6.4" rx="1.8"/>
<rect x="210.70" y="687.70" width="14.1" height="6.4" rx="1.8"/>
<rect x="210.70" y="728.40" width="14.1" height="6.4" rx="1.8"/>
<rect x="210.70" y="769.10" width="14.1" height="6.4" rx="1.8"/>
<rect x="210.70" y="809.80" width="14.1" height="6.4" rx="1.8"/>
<rect x="230.15" y="565.60" width="14.1" height="6.4" rx="1.8"/>
<rect x="230.15" y="647.00" width="14.1" height="6.4" rx="1.8"/>
<rect x="230.15" y="667.35" width="14.1" height="6.4" rx="1.8"/>
<rect x="230.15" y="728.40" width="14.1" height="6.4" rx="1.8"/>
<rect x="230.15" y="789.45" width="14.1" height="6.4" rx="1.8"/>
<rect x="249.60" y="565.60" width="14.1" height="6.4" rx="1.8"/>
<rect x="249.60" y="585.95" width="14.1" height="6.4" rx="1.8"/>
<rect x="249.60" y="647.00" width="14.1" height="6.4" rx="1.8"/>
<rect x="249.60" y="667.35" width="14.1" height="6.4" rx="1.8"/>
<rect x="249.60" y="728.40" width="14.1" height="6.4" rx="1.8"/>
<rect x="249.60" y="748.75" width="14.1" height="6.4" rx="1.8"/>
<rect x="249.60" y="769.10" width="14.1" height="6.4" rx="1.8"/>
<rect x="249.60" y="809.80" width="14.1" height="6.4" rx="1.8"/>
<rect x="269.05" y="565.60" width="14.1" height="6.4" rx="1.8"/>
<rect x="269.05" y="606.30" width="14.1" height="6.4" rx="1.8"/>
<rect x="269.05" y="647.00" width="14.1" height="6.4" rx="1.8"/>
<rect x="269.05" y="667.35" width="14.1" height="6.4" rx="1.8"/>
<rect x="269.05" y="728.40" width="14.1" height="6.4" rx="1.8"/>
<rect x="269.05" y="748.75" width="14.1" height="6.4" rx="1.8"/>
<rect x="269.05" y="809.80" width="14.1" height="6.4" rx="1.8"/>
<rect x="288.50" y="585.95" width="14.1" height="6.4" rx="1.8"/>
<rect x="288.50" y="606.30" width="14.1" height="6.4" rx="1.8"/>
<rect x="288.50" y="647.00" width="14.1" height="6.4" rx="1.8"/>
<rect x="288.50" y="687.70" width="14.1" height="6.4" rx="1.8"/>
<rect x="288.50" y="728.40" width="14.1" height="6.4" rx="1.8"/>
<rect x="288.50" y="769.10" width="14.1" height="6.4" rx="1.8"/>
<rect x="307.95" y="606.30" width="14.1" height="6.4" rx="1.8"/>
<rect x="307.95" y="626.65" width="14.1" height="6.4" rx="1.8"/>
<rect x="307.95" y="647.00" width="14.1" height="6.4" rx="1.8"/>
<rect x="307.95" y="667.35" width="14.1" height="6.4" rx="1.8"/>
<rect x="307.95" y="687.70" width="14.1" height="6.4" rx="1.8"/>
<rect x="307.95" y="728.40" width="14.1" height="6.4" rx="1.8"/>
<rect x="307.95" y="748.75" width="14.1" height="6.4" rx="1.8"/>
<rect x="307.95" y="769.10" width="14.1" height="6.4" rx="1.8"/>
<rect x="307.95" y="809.80" width="14.1" height="6.4" rx="1.8"/>
<rect x="327.40" y="565.60" width="14.1" height="6.4" rx="1.8"/>
<rect x="327.40" y="606.30" width="14.1" height="6.4" rx="1.8"/>
<rect x="327.40" y="626.65" width="14.1" height="6.4" rx="1.8"/>
<rect x="327.40" y="708.05" width="14.1" height="6.4" rx="1.8"/>
<rect x="327.40" y="728.40" width="14.1" height="6.4" rx="1.8"/>
<rect x="327.40" y="748.75" width="14.1" height="6.4" rx="1.8"/>
<rect x="327.40" y="769.10" width="14.1" height="6.4" rx="1.8"/>
<rect x="327.40" y="789.45" width="14.1" height="6.4" rx="1.8"/>
<rect x="327.40" y="809.80" width="14.1" height="6.4" rx="1.8"/>
<rect x="346.85" y="565.60" width="14.1" height="6.4" rx="1.8"/>
<rect x="346.85" y="585.95" width="14.1" height="6.4" rx="1.8"/>
<rect x="346.85" y="606.30" width="14.1" height="6.4" rx="1.8"/>
<rect x="346.85" y="667.35" width="14.1" height="6.4" rx="1.8"/>
<rect x="346.85" y="728.40" width="14.1" height="6.4" rx="1.8"/>
<rect x="346.85" y="789.45" width="14.1" height="6.4" rx="1.8"/>
<rect x="346.85" y="809.80" width="14.1" height="6.4" rx="1.8"/>
<rect x="366.30" y="565.60" width="14.1" height="6.4" rx="1.8"/>
<rect x="366.30" y="585.95" width="14.1" height="6.4" rx="1.8"/>
<rect x="366.30" y="626.65" width="14.1" height="6.4" rx="1.8"/>
<rect x="366.30" y="687.70" width="14.1" height="6.4" rx="1.8"/>
<rect x="366.30" y="769.10" width="14.1" height="6.4" rx="1.8"/>
<rect x="366.30" y="809.80" width="14.1" height="6.4" rx="1.8"/>
<rect x="385.75" y="626.65" width="14.1" height="6.4" rx="1.8"/>
<rect x="385.75" y="667.35" width="14.1" height="6.4" rx="1.8"/>
<rect x="385.75" y="708.05" width="14.1" height="6.4" rx="1.8"/>
<rect x="385.75" y="728.40" width="14.1" height="6.4" rx="1.8"/>
<rect x="385.75" y="748.75" width="14.1" height="6.4" rx="1.8"/>
<rect x="385.75" y="769.10" width="14.1" height="6.4" rx="1.8"/>
<rect x="385.75" y="789.45" width="14.1" height="6.4" rx="1.8"/>
<rect x="385.75" y="809.80" width="14.1" height="6.4" rx="1.8"/>
<rect x="405.20" y="565.60" width="14.1" height="6.4" rx="1.8"/>
<rect x="405.20" y="585.95" width="14.1" height="6.4" rx="1.8"/>
<rect x="405.20" y="606.30" width="14.1" height="6.4" rx="1.8"/>
<rect x="405.20" y="626.65" width="14.1" height="6.4" rx="1.8"/>
<rect x="405.20" y="667.35" width="14.1" height="6.4" rx="1.8"/>
<rect x="405.20" y="728.40" width="14.1" height="6.4" rx="1.8"/>
<rect x="405.20" y="769.10" width="14.1" height="6.4" rx="1.8"/>
<rect x="405.20" y="789.45" width="14.1" height="6.4" rx="1.8"/>
<rect x="405.20" y="809.80" width="14.1" height="6.4" rx="1.8"/>
<rect x="424.65" y="809.80" width="14.1" height="6.4" rx="1.8"/>
<rect x="444.10" y="626.65" width="14.1" height="6.4" rx="1.8"/>
<rect x="444.10" y="647.00" width="14.1" height="6.4" rx="1.8"/>
<rect x="444.10" y="728.40" width="14.1" height="6.4" rx="1.8"/>
<rect x="444.10" y="748.75" width="14.1" height="6.4" rx="1.8"/>
<rect x="444.10" y="769.10" width="14.1" height="6.4" rx="1.8"/>
<rect x="444.10" y="809.80" width="14.1" height="6.4" rx="1.8"/>
<rect x="463.55" y="585.95" width="14.1" height="6.4" rx="1.8"/>
<rect x="463.55" y="606.30" width="14.1" height="6.4" rx="1.8"/>
<rect x="463.55" y="647.00" width="14.1" height="6.4" rx="1.8"/>
<rect x="463.55" y="687.70" width="14.1" height="6.4" rx="1.8"/>
<rect x="463.55" y="708.05" width="14.1" height="6.4" rx="1.8"/>
<rect x="463.55" y="748.75" width="14.1" height="6.4" rx="1.8"/>
<rect x="463.55" y="809.80" width="14.1" height="6.4" rx="1.8"/>
<rect x="483.00" y="647.00" width="14.1" height="6.4" rx="1.8"/>
<rect x="483.00" y="667.35" width="14.1" height="6.4" rx="1.8"/>
<rect x="483.00" y="708.05" width="14.1" height="6.4" rx="1.8"/>
<rect x="483.00" y="809.80" width="14.1" height="6.4" rx="1.8"/>
<rect x="502.45" y="647.00" width="14.1" height="6.4" rx="1.8"/>
<rect x="502.45" y="667.35" width="14.1" height="6.4" rx="1.8"/>
<rect x="502.45" y="687.70" width="14.1" height="6.4" rx="1.8"/>
<rect x="502.45" y="708.05" width="14.1" height="6.4" rx="1.8"/>
<rect x="502.45" y="748.75" width="14.1" height="6.4" rx="1.8"/>
<rect x="502.45" y="769.10" width="14.1" height="6.4" rx="1.8"/>
<rect x="502.45" y="789.45" width="14.1" height="6.4" rx="1.8"/>
<rect x="502.45" y="809.80" width="14.1" height="6.4" rx="1.8"/>
<rect x="521.90" y="667.35" width="14.1" height="6.4" rx="1.8"/>
<rect x="521.90" y="708.05" width="14.1" height="6.4" rx="1.8"/>
<rect x="521.90" y="769.10" width="14.1" height="6.4" rx="1.8"/>
<rect x="521.90" y="789.45" width="14.1" height="6.4" rx="1.8"/>
<rect x="521.90" y="809.80" width="14.1" height="6.4" rx="1.8"/>
<rect x="541.35" y="606.30" width="14.1" height="6.4" rx="1.8"/>
<rect x="541.35" y="647.00" width="14.1" height="6.4" rx="1.8"/>
<rect x="541.35" y="667.35" width="14.1" height="6.4" rx="1.8"/>
<rect x="541.35" y="748.75" width="14.1" height="6.4" rx="1.8"/>
<rect x="541.35" y="769.10" width="14.1" height="6.4" rx="1.8"/>
<rect x="541.35" y="809.80" width="14.1" height="6.4" rx="1.8"/>
<rect x="560.80" y="647.00" width="14.1" height="6.4" rx="1.8"/>
<rect x="560.80" y="687.70" width="14.1" height="6.4" rx="1.8"/>
<rect x="560.80" y="748.75" width="14.1" height="6.4" rx="1.8"/>
<rect x="560.80" y="769.10" width="14.1" height="6.4" rx="1.8"/>
<rect x="560.80" y="809.80" width="14.1" height="6.4" rx="1.8"/>
<rect x="580.25" y="606.30" width="14.1" height="6.4" rx="1.8"/>
<rect x="580.25" y="687.70" width="14.1" height="6.4" rx="1.8"/>
<rect x="580.25" y="728.40" width="14.1" height="6.4" rx="1.8"/>
<rect x="580.25" y="748.75" width="14.1" height="6.4" rx="1.8"/>
<rect x="580.25" y="769.10" width="14.1" height="6.4" rx="1.8"/>
<rect x="580.25" y="809.80" width="14.1" height="6.4" rx="1.8"/>
<rect x="599.70" y="606.30" width="14.1" height="6.4" rx="1.8"/>
<rect x="599.70" y="626.65" width="14.1" height="6.4" rx="1.8"/>
<rect x="599.70" y="647.00" width="14.1" height="6.4" rx="1.8"/>
<rect x="599.70" y="667.35" width="14.1" height="6.4" rx="1.8"/>
<rect x="599.70" y="708.05" width="14.1" height="6.4" rx="1.8"/>
<rect x="599.70" y="728.40" width="14.1" height="6.4" rx="1.8"/>
<rect x="599.70" y="748.75" width="14.1" height="6.4" rx="1.8"/>
<rect x="599.70" y="789.45" width="14.1" height="6.4" rx="1.8"/>
<rect x="599.70" y="809.80" width="14.1" height="6.4" rx="1.8"/>
</g>
<g font-size="7.6" fill="#4d4d4d" text-anchor="end">
<text x="52.3" y="815.85">1</text>
<text x="52.3" y="795.50">2</text>
<text x="52.3" y="775.15">3</text>
<text x="52.3" y="754.80">4</text>
<text x="52.3" y="734.45">5</text>
<text x="52.3" y="714.10">6</text>
<text x="52.3" y="693.75">7</text>
<text x="52.3" y="673.40">8</text>
<text x="52.3" y="653.05">9</text>
<text x="52.3" y="632.70">10</text>
<text x="52.3" y="612.35">11</text>
<text x="52.3" y="592.00">12</text>
<text x="52.3" y="571.65">13</text>
</g>
<text transform="translate(36.7 694) rotate(-90)" font-size="9" fill="#000" text-anchor="middle">Week</text>
<text x="33.6" y="848.6" font-size="9" fill="#000" text-anchor="start">Bed unit</text>
<text x="33.6" y="867.2" font-size="9" fill="#000" text-anchor="start">Room</text>
<g font-size="6.9" fill="#4d4d4d" text-anchor="middle">
<text x="81.60" y="847.8">1</text>
<text x="101.05" y="847.8">2</text>
<text x="120.50" y="847.8">3</text>
<text x="139.95" y="847.8">4</text>
<text x="159.40" y="847.8">5</text>
<text x="178.85" y="847.8">6</text>
<text x="198.30" y="847.8">7</text>
<text x="217.75" y="847.8">8</text>
<text x="237.20" y="847.8">9</text>
<text x="256.65" y="847.8">10</text>
<text x="276.10" y="847.8">11</text>
<text x="295.55" y="847.8">12</text>
<text x="315.00" y="847.8">13</text>
<text x="334.45" y="847.8">14</text>
<text x="353.90" y="847.8">15</text>
<text x="373.35" y="847.8">16</text>
<text x="392.80" y="847.8">17</text>
<text x="412.25" y="847.8">18</text>
<text x="431.70" y="847.8">19</text>
<text x="451.15" y="847.8">20</text>
<text x="470.60" y="847.8">21</text>
<text x="490.05" y="847.8">22</text>
<text x="509.50" y="847.8">23</text>
<text x="528.95" y="847.8">24</text>
<text x="548.40" y="847.8">25</text>
<text x="567.85" y="847.8">26</text>
<text x="587.30" y="847.8">27</text>
<text x="606.75" y="847.8">28</text>
<text x="81.60" y="867.3">1</text>
<text x="110.78" y="867.3">2</text>
<text x="149.67" y="867.3">3</text>
<text x="188.57" y="867.3">4</text>
<text x="227.47" y="867.3">5</text>
<text x="266.38" y="867.3">6</text>
<text x="344.17" y="867.3">7</text>
<text x="421.97" y="867.3">8</text>
<text x="460.88" y="867.3">9</text>
<text x="499.77" y="867.3">10</text>
<text x="538.67" y="867.3">11</text>
<text x="577.58" y="867.3">12</text>
<text x="606.75" y="867.3">13</text>
</g>
<line x1="76.10" y1="856.5" x2="87.10" y2="856.5" stroke="#1a1a1a" stroke-width="1.05"/>
<line x1="95.55" y1="856.5" x2="126.00" y2="856.5" stroke="#1a1a1a" stroke-width="1.05"/>
<line x1="134.45" y1="856.5" x2="164.90" y2="856.5" stroke="#1a1a1a" stroke-width="1.05"/>
<line x1="173.35" y1="856.5" x2="203.80" y2="856.5" stroke="#1a1a1a" stroke-width="1.05"/>
<line x1="212.25" y1="856.5" x2="242.70" y2="856.5" stroke="#1a1a1a" stroke-width="1.05"/>
<line x1="251.15" y1="856.5" x2="281.60" y2="856.5" stroke="#1a1a1a" stroke-width="1.05"/>
<line x1="290.05" y1="856.5" x2="398.30" y2="856.5" stroke="#1a1a1a" stroke-width="1.05"/>
<line x1="406.75" y1="856.5" x2="437.20" y2="856.5" stroke="#1a1a1a" stroke-width="1.05"/>
<line x1="445.65" y1="856.5" x2="476.10" y2="856.5" stroke="#1a1a1a" stroke-width="1.05"/>
<line x1="484.55" y1="856.5" x2="515.00" y2="856.5" stroke="#1a1a1a" stroke-width="1.05"/>
<line x1="523.45" y1="856.5" x2="553.90" y2="856.5" stroke="#1a1a1a" stroke-width="1.05"/>
<line x1="562.35" y1="856.5" x2="592.80" y2="856.5" stroke="#1a1a1a" stroke-width="1.05"/>
<line x1="601.25" y1="856.5" x2="612.25" y2="856.5" stroke="#1a1a1a" stroke-width="1.05"/>
<text x="644.9" y="574.2" font-size="9.4" fill="#000" text-anchor="start">ST</text>
<rect x="643.9" y="580.2" width="13.2" height="13.3" fill="#4bb2d8" fill-opacity="0.6"/>
<rect x="643.9" y="594.7" width="13.2" height="13.3" fill="#f0a821" fill-opacity="0.6"/>
<text x="662.2" y="589.7" font-size="7.5" fill="#111" text-anchor="start">2</text>
<text x="662.2" y="604.3" font-size="7.5" fill="#111" text-anchor="start">164</text>
<text x="644.7" y="632.2" font-size="9.05" fill="#000" text-anchor="start"># isolates</text>
<circle cx="653" cy="644.4" r="2.2" fill="#b2b0ae"/>
<text x="679.6" y="646.8" font-size="8" fill="#111" text-anchor="middle">1</text>
<circle cx="653" cy="652.3" r="4.0" fill="#b2b0ae"/>
<text x="679.6" y="654.3" font-size="8" fill="#111" text-anchor="middle">2</text>
<circle cx="653" cy="663.2" r="6.2" fill="#b2b0ae"/>
<text x="679.6" y="665.9" font-size="8" fill="#111" text-anchor="middle">3</text>
<circle cx="653" cy="677.3" r="8.0" fill="#b2b0ae"/>
<text x="679.6" y="679.8" font-size="8" fill="#111" text-anchor="middle">4</text>
<circle cx="653" cy="697.4" r="9.8" fill="#b2b0ae"/>
<text x="679.6" y="698.8" font-size="8" fill="#111" text-anchor="middle">5</text>
<circle cx="653" cy="720.4" r="11.8" fill="#b2b0ae"/>
<text x="679.6" y="722.0" font-size="8" fill="#111" text-anchor="middle">6</text>
<circle cx="653" cy="747.7" r="13.6" fill="#b2b0ae"/>
<text x="679.6" y="748.8" font-size="8" fill="#111" text-anchor="middle">7</text>
<circle cx="653" cy="781.2" r="16.7" fill="#b2b0ae"/>
<text x="679.6" y="782.9" font-size="8" fill="#111" text-anchor="middle">8</text>
<circle cx="653" cy="822.4" r="21.8" fill="#b2b0ae"/>
<text x="679.6" y="825.3" font-size="8" fill="#111" text-anchor="middle">9</text>
</g>
</svg></body></html>
